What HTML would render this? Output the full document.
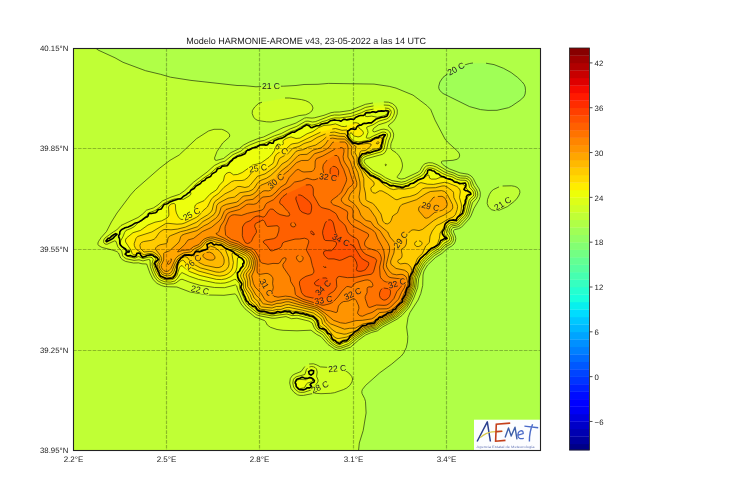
<!DOCTYPE html>
<html><head><meta charset="utf-8"><style>
html,body{margin:0;padding:0;background:#fff;width:730px;height:500px;overflow:hidden}
svg{display:block;will-change:transform}
text{text-rendering:geometricPrecision}
text{font-family:"Liberation Sans",sans-serif;fill:#222}
</style></head><body>
<svg width="730" height="500" viewBox="0 0 730 500">
<defs><mask id="lm" maskUnits="userSpaceOnUse" x="0" y="0" width="730" height="500"><rect width="730" height="500" fill="#fff"/><rect x="-9.9" y="-3.5" width="19.8" height="7" transform="translate(456.0 68.7) rotate(-29)" fill="#000"/><rect x="-9.9" y="-3.5" width="19.8" height="7" transform="translate(271.0 85.8) rotate(0)" fill="#000"/><rect x="-9.9" y="-3.5" width="19.8" height="7" transform="translate(191.5 214.0) rotate(-28)" fill="#000"/><rect x="-9.9" y="-3.5" width="19.8" height="7" transform="translate(258.0 168.2) rotate(-8)" fill="#000"/><rect x="-7.6" y="-3.5" width="15.1" height="7" transform="translate(281.5 149.0) rotate(35)" fill="#000"/><rect x="-9.9" y="-3.5" width="19.8" height="7" transform="translate(275.8 181.0) rotate(-40)" fill="#000"/><rect x="-9.9" y="-3.5" width="19.8" height="7" transform="translate(328.2 177.2) rotate(8)" fill="#000"/><rect x="-9.9" y="-3.5" width="19.8" height="7" transform="translate(341.0 240.0) rotate(27)" fill="#000"/><rect x="-9.9" y="-3.5" width="19.8" height="7" transform="translate(400.7 239.8) rotate(-54)" fill="#000"/><rect x="-9.9" y="-3.5" width="19.8" height="7" transform="translate(397.0 283.3) rotate(-17)" fill="#000"/><rect x="-9.9" y="-3.5" width="19.8" height="7" transform="translate(352.6 293.7) rotate(-25)" fill="#000"/><rect x="-9.9" y="-3.5" width="19.8" height="7" transform="translate(323.0 287.8) rotate(-45)" fill="#000"/><rect x="-9.9" y="-3.5" width="19.8" height="7" transform="translate(323.4 300.0) rotate(-10)" fill="#000"/><rect x="-9.9" y="-3.5" width="19.8" height="7" transform="translate(193.0 262.0) rotate(-40)" fill="#000"/><rect x="-9.9" y="-3.5" width="19.8" height="7" transform="translate(200.0 290.0) rotate(12)" fill="#000"/><rect x="-9.9" y="-3.5" width="19.8" height="7" transform="translate(266.4 287.5) rotate(60)" fill="#000"/><rect x="-9.9" y="-3.5" width="19.8" height="7" transform="translate(430.4 206.5) rotate(13)" fill="#000"/><rect x="-9.9" y="-3.5" width="19.8" height="7" transform="translate(502.7 203.5) rotate(-32)" fill="#000"/><rect x="-9.9" y="-3.5" width="19.8" height="7" transform="translate(337.2 368.5) rotate(-5)" fill="#000"/><rect x="-9.9" y="-3.5" width="19.8" height="7" transform="translate(320.0 387.0) rotate(-25)" fill="#000"/></mask><filter id="sb" x="0" y="0" width="1" height="1" filterUnits="objectBoundingBox"><feGaussianBlur stdDeviation="0.35"/></filter><clipPath id="c"><rect x="73" y="48" width="467" height="402"/></clipPath></defs>
<g clip-path="url(#c)"><g filter="url(#sb)"><rect x="73" y="48" width="467" height="402" fill="#a0ff56"/><path fill="#b0ff46" fill-rule="evenodd" d="M73 48l467 0l0 402l-467 0zM438.8 85.5l0 2.5l1 2.5l2.2 2.3l3 1.9l24.5 11.9l9.5 2.7l6 1l11.5 0l9.3 -1.8l3.7 -1.2l9.6 -6.3l3.8 -3l1.9 -3l0.7 -3.5l-0.2 -4l-1.4 -3.5l-4.9 -5.3l-5 -4.2l-7 -4.5l-9 -4.1l-4.5 -1.5l-7.5 -1.2l-14.5 -0.1l-14.5 4.1l-5.5 3.5l-8.1 6.3l-3 4z"/><path fill="#c0ff36" fill-rule="evenodd" d="M73 48l22.6 0l2.4 2l17 7.8l8 4.5l22.5 8.4l15 3.6l10 2.9l21 3.3l45.5 5l8 0.2l11 1.1l9 -0.5l18.5 -0.1l12.5 -0.7l8 -1l14 -0.2l10.5 -0.9l45 0.7l15 2.1l7.3 1.8l17.2 7.1l13.2 9.9l4.1 4l1.4 2.5l3.5 9l9.8 18.5l2.5 3l10 9.1l1.5 1.9l0.7 2l-0.5 2.5l-2.2 1.8l-4 1l-10.4 0.7l-1.1 0.6l0 1.4l3 3l5.2 3l10.3 3.9l8 1.3l3.2 1.8l2.1 2.5l2.7 5.5l3.2 5l1.1 3.5l-0.1 4l-1 3l-5.2 8.8l-3.1 7.7l-1.8 3l-7.6 8.2l-3 1.5l-4 1l-0.9 0.8l-0.1 1.5l1.8 4l0.5 2.5l-0.5 3l-1.3 2.5l-2.5 2.2l-4.2 2.3l-5.3 4.9l-6.5 4.1l-8 7.6l-3.5 5.9l-1 4l-0.3 10.5l-1.9 8l-2.7 6.5l-8.1 12.5l-2 5l-1.4 9.5l1.2 9.5l-0.3 5.5l-1.2 5.5l-2.6 5.5l-2.4 3l-9.5 8l-12.3 9l-14 12.5l-3.1 4l-0.6 2l0.2 2l2.6 5l0.9 3l0.6 11.5l-2.9 17.5l-3.9 12.5l-0.7 7l-285.6 0zM519 189l0.7 1.5l0.2 2l-1.6 4l-4.3 5.1l-6 4.7l-7.5 3.6l-4 0.8l-5 -1l-1.8 -1.2l-1.5 -2l-1.1 -3.5l0.7 -4.5l3 -6.5l3.2 -2.7l7 -3l7.5 -0.6l6.5 0.8l2.3 1z"/><path fill="#d0ff25" fill-rule="evenodd" d="M313 107.5l-0.2 2l-1.3 2l-2.5 1.8l-2.5 1.2l-7.5 1.1l-8 2.3l-19.5 4.1l-5.5 -0.2l-9 -1.7l-3.2 -2.6l-1.7 -4.5l0.3 -2.5l1.5 -2.5l3.1 -3.4l2.5 -1.6l2.5 -0.8l23.5 -4.2l3.5 0l10.5 1.3l6 1.3l5.1 2.9l1.7 2zM477.7 193l0 2.5l-0.7 2.1l-4.6 5.4l-3.2 11.5l-1.6 3l-7.4 8l-2.7 1.3l-4.5 0.8l-1.5 1.4l-0.6 3l2.1 4l0.5 2.5l-0.2 2l-1 2l-1.8 1.7l-4.6 2.3l-5 5l-7.1 4.5l-7.5 7l-4.3 6.7l-3.5 9.6l-1.1 9.2l-4.1 10.5l-3.1 6.5l-2.1 3l-6.6 7.3l-5.5 4.1l-13 6.8l-5.5 4.1l-6.1 1.7l-5.8 2.5l-6.9 5l-8.2 7.2l-9.5 3.2l-3.5 -0.3l-4.5 -1.9l-5.5 -4.2l-6.5 -7.4l-4.5 -2.3l-5.5 -4.1l-14 0.6l-14.5 -0.5l-6 -0.9l-6.6 -2.4l-2.6 -2l-1.8 -3.5l-1.1 -1l-9.4 -3.4l-10 -8.3l-3.9 -4.8l-4.6 -8.9l-1.5 -1.2l-11 1.4l-16 -0.4l-18 -2.9l-13.1 -5l-11.4 -0.3l-5 -1.5l-4.5 -2.6l-3.2 -3.6l-2.9 -6l-3.2 -9l-4.7 -0.2l-3.5 -0.9l-5 0.1l-8 -1.6l-3 -1.7l-1.8 -1.7l-2.2 -5l-1 -1.1l-4 -1.6l-12 -3.1l-2.5 -1.4l-1.1 -1.8l0.9 -3l2.8 -4l4.9 -5.5l4.9 -9.5l6 -9.5l13.1 -17.5l5 -5.6l24 -21.1l10.5 -8l8.5 -4.8l17.5 -16.4l12 -7.9l5.5 -1.9l7.5 -0.1l2.5 0.7l3 1.6l2.5 2l0.8 1.5l-0.4 2l-6.7 6l-5.7 8.5l-2.5 6.5l0.5 2l1.5 0.4l7 -1.9l7.5 -5.9l8.4 -4.1l4.1 -3.4l5.5 -2.9l9 -3.7l5.5 -1.5l19.5 -9.3l13.1 -4.7l8.4 -4.9l2.5 -0.4l6.6 0.3l10.4 -2.7l7 -2.6l3.5 -0.6l5 -0.1l10.5 -1.5l9 -3.3l5 -2.5l9 -1.7l12 -1.1l4.5 0.5l2.5 1l2.4 1.6l1.7 2l1 2l0.2 4.5l-1.6 4.5l-2.4 3.5l-4.5 3.5l-0.5 1l3.8 4l1.6 4l-0.3 3.5l-2.4 6.1l-0.3 2.9l0.3 2.3l1 1.3l4 2.5l2.7 2.9l2.2 3.5l1.3 4l0.3 3l-0.6 3l-1.6 3.5l-3 4l0 1l0.5 0.5l2.6 1l2.6 0l8.5 -3.5l7.5 -3.9l3.4 -5.6l2.1 -2l3 -1.1l4.5 -0.1l5 1.9l11 6.5l6 1.9l4 2.1l2.5 0.6l5.5 0.4l3 1.1l2.5 2.7l1.8 5l3.2 4.5zM289.7 382l0.8 -4l2 -2.7l2.5 -1.4l6.1 -2.4l0.9 -0.7l1.9 -3.3l1.6 -1.6l3 -1.7l3 -0.6l4 0.8l5.5 2.6l10.5 0.6l13.5 3l3 1.6l2.4 2.3l1.6 2.5l0.6 2.5l-1.3 4l-3.3 3.6l-3.5 2.1l-8.5 3l-7 1.2l-9 0.4l-6 -0.5l-11 2.2l-3.5 -0.2l-2 -0.5l-4 -3l-2.7 -3.8z"/><path fill="#ddff18" fill-rule="evenodd" d="M475.8 193.5l-0.7 3.5l-3.6 3.3l-1 1.7l-2.8 11.5l-1.5 3l-3.7 3.5l-3.5 4.1l-2.5 1.1l-4.5 0.7l-2 1.8l-1.2 4.3l2.7 5.5l0.1 2l-0.9 2l-1.7 1.5l-4 1.8l-4.5 4.8l-7.1 4.4l-7.4 6.8l-2.3 2.7l-3.7 6.5l-3.3 9l-1 9l-3.8 10l-4.6 9l-6.8 7.3l-5.5 4.1l-13 6.8l-5.5 4.1l-6 1.6l-5.5 2.3l-7.6 5.3l-7.9 6.7l-9 3.1l-2.5 -0.2l-2.5 -0.9l-6 -4.2l-7 -8.5l-4.5 -2.4l-2 -1.7l-1.7 -2.4l-1.8 -4.5l-2.5 -2.1l-13 -3.2l-6 0.4l-5 -2l-11 1.6l-3 0l-13 -2.5l-3 -1.2l-9.2 -7.5l-2.9 -3.5l-1.7 -3l-6.2 -15.4l-1.5 -0.2l-5.5 1.9l-5 1l-10 -0.3l-14 -2.2l-10 -3l-8 -3.1l-1.5 0.3l-4 3.1l-2.5 1l-5.5 0.6l-5 -0.5l-5.5 -2.6l-3.3 -3.6l-2.5 -5.5l-1.7 -5l-0.5 -7l-1.5 -0.5l-5.5 1.4l-4 -1.1l-5 0.6l-7.5 -1.6l-2.3 -1.3l-1.5 -1.5l-1 -5l-3.8 -4l-1.9 -5.7l-1.5 -0.4l-6 3l-2 0.5l-2.1 -0.9l-1 -2l0.5 -2l1.6 -2l11.2 -7.5l4.3 -4.5l17 -8l4.7 -3.5l3.8 -3.8l7 -2.3l4.5 -3l4.5 -4l8.5 -3.8l8.5 -2.8l5.4 -3.8l8.6 -8.3l13.5 -10.1l7 -6.3l6.3 -3.3l4.7 -1.3l7.5 -6.2l3.5 -2l5.1 -2l5.4 -4.4l12 -5.2l6 -1.1l10 -4.5l6.9 -2.3l4.1 -2.4l12 -5.1l7.5 -4.6l3 -0.3l4.5 0.9l3.5 -0.5l14.5 -5.7l4 -0.8l5 0.1l11.5 -1.7l9.5 -3.6l4.5 -2.3l8.5 -1.6l12 -1l3.5 0.4l2.5 1.2l1.6 1.5l1.1 2l0.2 2.5l-1.5 4.5l-2.9 3.4l-4 2.1l-7 2l-5 3.5l-1.3 2l0.3 1.5l1.5 0.4l7 -2.6l3 -0.2l3 0.9l2.3 2l0.8 2l0 2l-2.1 5l-2.5 10.1l-2 2.3l-2.5 1.3l-13.5 3.3l-2.6 1l-1 1l-0.3 1.5l0.5 1.5l1.4 1.6l7 5.9l8 4.1l5 3.4l6 2.6l9.5 1.6l4 -0.9l14.5 -7.2l2 -2.1l2.5 -4.4l1.5 -1.4l3 -0.8l3.5 0.3l4 1.4l7.5 4.6l4.5 2l4.5 1.2l4.5 2.4l3 0.7l5 0.2l2.5 0.9l2 2.2l1.5 5l3 3.7zM384.6 165l0.9 -0.9l1.1 0.4l-0.6 1.1l-1 0zM315.1 367.5l1.4 1.5l0.6 2l-0.5 5.5l1.6 4l-0.8 2.5l-4.9 6l-2 1.2l-7.5 2.2l-3.5 -0.2l-2.5 -1.2l-2.6 -2.5l-1.1 -2.5l-0.5 -4.5l1.2 -3l3.5 -2.2l7.4 -1.8l1.5 -5l2.6 -2.3l3 -0.7z"/><path fill="#edff08" fill-rule="evenodd" d="M473.9 193.5l-0.5 2.5l-3 2.5l-1.3 2l-3.1 12.5l-1.2 2.5l-3.3 3l-3.5 4.2l-2 0.9l-5 0.8l-2.5 2.1l-1.8 6l0.5 1.5l2.4 3.5l0.1 1.5l-0.7 1.5l-5 2.7l-4.5 5l-7 4.3l-8.1 7.5l-2.1 2.5l-3.4 6l-3.4 9l-0.6 3l-0.3 6.5l-3.5 9.5l-3.5 7.5l-1.6 2.4l-6.5 7l-5 3.8l-13 6.7l-5.5 4.1l-5.5 1.4l-5.5 2.2l-10.3 6.9l-5.7 4.8l-8.5 3.2l-2 -0.1l-2 -0.6l-6 -4.3l-3 -4.4l-4 -4.6l-4.5 -2.4l-1.8 -1.6l-1.1 -2l-1.4 -4.5l-1.7 -2l-2 -1.2l-13 -3.5l-6 0.3l-5 -1.6l-15 1.9l-12.5 -2.2l-2.5 -1.1l-9 -7.5l-2.4 -3.1l-5.7 -13l-0.6 -5.5l-3.3 -4l-1.5 -0.1l-5 2.3l-4.5 1.3l-4.5 0.3l-5 -0.3l-17 -3.6l-9 -3.1l-7.5 -3.7l-1.5 1.2l-3 4.7l-3 2.7l-5 1l-5.5 -0.5l-5 -2.4l-2.8 -3.3l-2.3 -5l-1.8 -5.5l-0.1 -2l1.2 -4l-0.7 -1.5l-1.5 -0.9l-2 -0.2l-6 1.7l-4.5 -2.2l-3 1.5l-1.5 0.1l-6.5 -1.8l-1.8 -1.7l0.3 -3l-0.5 -1.5l-4.2 -4l-0.9 -2l0.2 -3l4.9 -10.1l1.5 -1.2l4 -1.2l2.8 -1.5l1.9 -1.5l2.5 -3l7 -4l3.3 -5.5l6.5 -2.4l5 -3.5l3.8 -3.6l7.7 -3.6l6 -1.3l6 0.7l6 -3.5l1.5 -1.8l-0.6 -2.5l0.4 -1.5l4.7 -5.6l9.5 -7.3l4 -2.4l7.4 -6.7l5.3 -2.5l4.8 -1.6l8.1 -6.9l8.4 -4l4 -3l13.6 -5.5l4.4 -1.2l11 -5.2l6.5 -2.2l8.5 -4.4l4 -1.2l4 -2l7 -4.4l2 -0.1l3.5 1.3l1.5 -0.1l5 -1.3l4 -2l4 -1l5.6 -2.2l3.4 -0.6l5 0.1l12 -1.8l9.5 -3.5l4.4 -2.2l7.6 -1.4l13.5 -1.1l1.8 0.5l1.5 1l1 2.5l-1.3 4l-2.5 2.5l-3 1.3l-6 1.5l-5.5 3.5l-5.3 1.7l-1.1 1l1.4 4.5l-0.4 2l-1.4 3l0.3 1.1l3 -0.1l10 -4.9l3 -1l3.5 0.5l1.1 0.9l0.5 1.5l-1.7 5l-1.8 8.5l-1.6 2.5l-3.5 1.7l-14 3.9l-1.7 0.9l-1.1 1.5l-0.4 2.5l1.1 3l8.6 8l8.5 4.3l4.5 3.1l6.5 3l11.5 1.6l4 -1.2l14.8 -7.3l2.6 -2.5l3.1 -4.9l2 -0.7l2.5 0.1l4 1.4l7.5 4.3l5 2.1l4 1l4.5 2.4l4 1l4.5 0.1l2 0.7l1.5 2l1 4.5l3.1 3zM387.7 112.5l-0.4 -1l-1 -0.5l-6.8 -0.1l-3.5 1.1l-9 0.9l-1.5 1.1l-0.6 1.5l0.6 0.9l1 0.2l5 -0.5l4.5 1.1l3 0l6.5 -2l1.6 -1.2zM312.5 379.7l0.2 0.8l-0.7 1l-4.5 1.6l-1.4 1.4l-1.1 2.5l-2 1.3l-2.5 0.5l-1.5 -0.3l-2 -1.4l-1 -1.7l-0.4 -2.4l0.2 -1.5l0.7 -1l1.5 -0.8l8.5 0.1l4 -1.6l1 0.4z"/><path fill="#feed00" fill-rule="evenodd" d="M470.8 193.5l-0.2 1l-2.5 2l-0.8 1.5l-3.1 14l-1.2 2.5l-6 6.7l-1.5 0.6l-5.5 1.1l-2.3 1.6l-1.1 1.5l-2.4 7l0.6 2l1.8 2.5l-0.1 1.5l-4 2.5l-4.5 5.6l-7 4.1l-10 10.1l-3.4 6.2l-1.6 5.4l-2 4.6l-1 10l-3.5 9.5l-4.4 8.5l-6.5 7l-5.1 3.8l-12.5 6.3l-5.5 4.2l-5.5 1.4l-5.8 2.3l-11.2 7.2l-5 3.9l-4 1.1l-4 1.9l-3 -0.6l-5 -3.5l-3 -4.5l-4.3 -5l-5.8 -3.5l-1.2 -2l-1.3 -4.5l-2.4 -2.6l-2 -1.3l-9 -2.7l-6 -1.3l-4.5 0.5l-4 -1.4l-2.5 -0.2l-14 2.2l-12 -2l-3 -1.6l-2.5 -2.9l-5.3 -4.2l-2.1 -3l-5.5 -12l-0.3 -6l-3.4 -6l-0.3 -2l0.4 -1.5l5.2 -6.5l1.3 -3l-0.5 -3.2l-2.5 -2.3l-2.5 -0.7l-1.5 0.7l-0.6 9.5l-1 3.5l-1.2 2l-3.8 3.5l-4.9 2.3l-4.5 0.8l-5 -0.2l-16.5 -3.9l-10 -3.8l-3.5 -2.2l-4 -3.4l-1.5 -0.5l-1.5 1.8l-2.5 7.9l-2 2.7l-3 1.7l-6 0.3l-4 -1.3l-2.5 -1.6l-3.5 -5.8l-2.2 -6.3l0.2 -2l1.7 -3.5l-0.1 -1l-1.1 -1.5l-2 -1.3l-2.5 -0.6l-7 1.5l-3.5 -2.8l-1.5 -0.5l-3 1.5l-1.5 0l-1.3 -1.3l-1 -3l-5.9 -9.5l0.3 -1.5l1.4 -2.1l6.3 -4.9l7.2 -2.1l7.5 -5.4l7 -2.8l6.5 -1.3l5.6 -2.9l1.3 -1.5l0.5 -1.5l-0.6 -6.5l0.3 -2l1.1 -1.5l2.3 -1.3l2 -0.3l1.4 1.1l0.3 5.5l0.7 3l2 4l1.8 2l1.3 0.5l2 -0.3l8.5 -4.1l1.5 -1.1l1 -1.5l0.2 -5.5l0.7 -2l2 -1.5l6.6 -2.8l6 -6.5l6.5 -4.4l3 -4.7l3.9 -4.1l1.3 -5.5l1.8 -2.2l3.5 -1l2.6 2.2l2.4 0.5l6.4 -2l10.1 -7.3l2.5 -1.1l6.5 -1.3l8 -5.6l3 -2.9l2.5 -3.3l0.9 -2l0.4 -3l0.7 -1.4l1.5 -0.7l2.5 1.2l2.5 -0.6l0.9 -1.5l-0.3 -2.5l2.1 -2l5.8 -2.1l5 1.6l4 -0.4l7 -4.3l6 -2.3l5.7 -4l6.8 -2.4l4.5 -0.1l5.5 -1.1l6 2.4l2.5 0.4l2.9 -0.7l6.6 -3.1l2.5 -0.2l2.5 0.6l0.9 1.2l-0.6 2l0.1 1.5l4.2 3.5l0.3 1.5l-0.5 1.5l-2.9 2l-3.5 0.3l-3 -1.3l-2.5 -2.9l-1 0.8l-0.3 1.6l0.6 2.5l1.9 2.5l1.8 1.1l3 0.7l2.5 0.1l10 -1.8l5 -2.6l6 -2.4l2 -0.4l1.5 0.5l0.4 1.3l-2.1 11l-0.8 1.5l-2 1.4l-6 1.4l-10.5 3.8l-2.1 2.9l-0.4 3.5l0.6 2l1.4 2.2l8 7.8l8.5 4.2l4.5 3.4l6.5 3.2l11.5 1.7l2.5 -0.2l9 -3.5l5.5 -3.3l5.5 -1.8l4.5 -2.9l0.5 0.7l0.5 2.5l1.5 1l5 0.1l4.5 -1.8l2 -0.1l8.5 2.2l4 1.9l6.6 2.2l3.4 2.2l2 3.6l3.1 2.7z"/><path fill="#ffda00" fill-rule="evenodd" d="M352.5 127.5l1 -0.4l0.8 0.4l0 0.5l-1.3 0.2zM460.2 191l-0.7 6.5l1.8 6.5l0.2 2.5l-1.3 7l-4.5 6l-6.2 1.6l-4.1 2.9l-2.2 4.5l-3.1 4.5l-0.7 5.5l-1.9 5.6l-2.1 1.9l-5.9 3l-9.9 11l-3.3 6.5l-1.5 5.5l-2.1 5l-0.9 10l-1.5 3.5l-1.7 5.5l-4.1 8.2l-6.5 7.1l-4.1 3.2l-9.9 5.4l-4 1.7l-4.8 3.9l-11.2 3.6l-16 10l-5 1.1l-3.5 1.9l-2.5 -0.4l-4 -2.7l-2.5 -3.9l-4.6 -5.6l-5.9 -3.8l-1.1 -4.7l-0.9 -1.5l-3.5 -3.1l-2 -1.1l-10.5 -3.1l-5 -0.9l-4.5 0l-3.5 -1.2l-3 0.1l-4.5 1.2l-4 0.1l-5.5 1.1l-11.5 -1.8l-2.5 -1.2l-2.7 -3.6l-5.3 -4.7l-2.4 -5.8l-4.1 -7.5l-0.2 -6l-2.5 -5l-0.2 -2l2 -4l3.4 -4.5l0.9 -2.5l0.2 -2l-0.5 -2l-1.1 -1.8l-3.5 -2.5l-7 -2.8l-2.6 0.1l-0.4 1.5l1.4 8l-0.9 5.5l-1.3 2.5l-1.7 2l-2.5 1.8l-3 1.2l-4 0.6l-4 -0.4l-18 -4.8l-8 -3.9l-3 -2.5l-3.4 -4l-1.1 -0.3l-2 1l-2 2.8l-2.9 8.5l-1.6 3.1l-3 1.9l-4.5 0.3l-3 -0.7l-2.5 -1.3l-4.1 -6.3l-1.4 -5l0.3 -1.5l2.1 -3.5l-0.3 -1.5l-1.1 -1.5l-2.5 -2l-2.5 -0.9l-3.5 0l-3.5 1.1l-1.5 -0.3l-3 -2.6l-3.5 -2.3l-1.5 -2l-0.8 -2.5l0.1 -2l1.5 -4l1.7 -2.5l14.5 -4.6l12.5 -7.8l3.5 -0.8l9 0.9l5.5 -0.4l15 -7.1l2.5 -2.2l3 -3.8l4.5 -3.8l3.4 -6.9l1.9 -2.5l6.2 -4.4l6 -6.6l8 -5.6l9.5 -0.5l2.9 -0.9l3 -2.5l3.8 -5l1.8 -1.2l7.5 -0.3l3.5 -1.4l7.9 -5.6l0.9 -2l0.9 -4.5l1.8 -2.7l3 -2.2l7 -3.6l4.5 -4.1l2 -0.7l5.5 -0.9l23.5 -11.2l12 -3l2.5 0l5.5 1.7l5 -0.3l0.5 0.5l0.5 5.5l1.5 3l3 2.9l4 1.2l3 0.1l10.5 -1.8l6 -2.7l4.5 -1.2l1 0.3l0.6 1.7l-0.1 2.5l-2 5.7l-1.5 0.9l-5.5 0.8l-3.9 2.1l-6.6 2.6l-1.4 1.4l-1 2l-0.6 4.5l0.7 2.5l1.2 2l8.1 8.8l9 4.5l4.5 4.3l6.5 4.2l3.5 1.3l5.5 -0.9l6 0.4l9 -1.7l5.2 -3.9l1.8 -0.8l2 0.1l5.5 1.4l5.5 0.2l11 -2.1l3.5 0.7l9 3.6l2.1 1.9z"/><path fill="#ffcb00" fill-rule="evenodd" d="M457.5 206l-0.1 2.5l-1.9 5.9l-1.1 1.6l-1.9 1.3l-5.5 2.4l-6 3.8l-4.4 2l-2.1 2.2l-2.8 4.3l-1.8 4.5l-0.6 6l-3.6 3.5l-3.3 7.5l-4.2 4l-1 1.5l-2.6 7l-1.1 5.5l-2 5l-0.7 10l-1.6 3.5l-1.9 6l-4.2 8l-6 6.5l-4.1 3.1l-9.5 5.1l-4 1.7l-5 4.1l-11 3.3l-5.5 3.7l-11 5.5l-8.5 1.6l-2.5 -0.5l-2 -1.3l-7 -9.2l-4.4 -3.6l-0.9 -4l-1.2 -2l-7.2 -5l-24.3 -5.6l-3 0.2l-5 1.8l-4 0l-4.5 1.1l-11.5 -1.2l-1.8 -0.8l-2.8 -4.5l-4.4 -4.1l-2 -5.4l-3.8 -5.5l-0.8 -2l0 -6l-2 -4.5l-0.1 -1.5l1.2 -2.8l3.1 -3.7l1.2 -2.5l0.7 -3l-0.7 -3.5l-1.3 -2.3l-1.9 -1.7l-10.1 -4.9l-2.5 -0.7l-6.9 -0.4l-0.5 0.5l3 8l0.5 6l-0.6 2.5l-1.2 2l-1.8 1.7l-2.5 1.4l-3.5 0.7l-3.5 -0.3l-15.5 -4.1l-8 -4.3l-2.5 -2.4l-2.5 -3.7l-2.5 -0.9l-4 1.7l-2.5 2.6l-2.1 3.6l-2.4 6.8l-1.5 2.7l-2.2 1.5l-3.3 0.4l-3 -0.7l-2 -1l-3.9 -5.7l-0.9 -4l2.4 -4l0.2 -1.5l-0.4 -1.5l-1.4 -2l-3 -2.5l-2.5 -1.3l-3 -0.2l-4.5 0.6l-1.5 -0.4l-2.7 -2.7l-1 -2.5l0.5 -2.5l1.7 -1.8l9.5 -1.9l3 -1.4l4.9 -6.4l3.6 -2.6l2 -0.5l6 0.4l6.5 -0.7l8 -2l10.5 -4.5l5.5 -4.2l6.5 -3.8l3 -2.6l1.4 -2.5l1.6 -6.5l2.5 -3.1l4 -2.4l5 -4.1l7.4 -3.4l4.1 -3.2l2.5 -0.4l6 1.1l3.2 -1l8.8 -10.2l7.5 -2.4l10 -6.9l1.9 -2.5l2.1 -5.1l1 -1.4l7.5 -4l5.5 -5.8l6.5 -1.9l5 -3l6 -1.8l5.5 -3.5l9 -3.9l7 -1.9l3 -0.1l5.5 1.4l4.5 0.2l1 0.9l1.9 3.9l1.6 2l2.5 2.3l2 0.8l4.5 1l8.5 -1.2l4 0.6l0.2 1l-0.6 1l-3.4 3.5l-2.2 1.1l-3.5 0.3l-1 0.6l-0.7 1.5l-1.4 8.5l0.7 3l1.4 2.6l7.5 9.9l4.8 4l1.4 2l-0.2 2.3l-2.5 1.9l-0.7 1.3l0.5 2.5l1.7 1.8l2.5 0.4l4 -2.4l2.5 0.1l5.6 3.1l7.4 5.2l2.5 0.6l5 -2.1l7 -1.1l5.5 -1.8l2.5 -1.3l4.5 -4.3l2 -1l4.5 -0.5l7 0l6.5 -1.7l2.5 -0.1l2.5 1l6.4 5.1l0.5 5.5zM414.6 243.5l0.9 2.2l2.5 0.9l2.9 -1.1l0.9 -1l0.4 -1.5l-1.2 -1.6l-3 -0.6l-2.1 0.7zM378.5 141.8l0.5 0.7l-0.5 1.2l-1 0.4l-1.2 -0.6l0.2 -1z"/><path fill="#ffb900" fill-rule="evenodd" d="M452.8 205.5l-0.2 3l-1.6 2.2l-7 4.4l-5.5 2.5l-5 3.1l-11 8.7l-3.5 1.2l-5 -0.8l-2 0.2l-1.5 0.9l-2.3 2.6l-2.7 1.1l-0.9 0.9l0.1 1l1.9 3l-0.3 4.5l-1.3 2.8l-3.8 2.7l0.9 5l-0.2 2.5l-0.9 1.5l-3 1.9l-0.3 1.1l0.9 1.5l1.9 0.9l5 -0.5l2.5 0.8l2.7 2.8l1 3.5l-1.7 7l-0.1 8l-3.6 10l-3.8 7.5l-6.1 6.5l-3.9 3l-9.5 4.9l-3.5 1.4l-5.5 4.5l-10.5 2.9l-7 4.4l-11 3.5l-3.5 -0.2l-5.5 -1.4l-4 -2.5l-7.3 -7.5l-1.7 -4.3l-1.5 -2.1l-5.5 -4.3l-2.5 -1.3l-25.5 -6l-3 0.3l-4.5 1.6l-4.5 0.1l-4.5 1.5l-10 -0.9l-1.3 -0.6l-2.7 -5l-4 -3.7l-2 -4.8l-4.3 -6.5l-0.1 -6l-1.6 -5.5l0.7 -2l3.4 -4l1 -2.5l0.5 -4l-1 -4l-1.6 -2.5l-2 -1.7l-10.5 -5.2l-9 -2.4l-6 -3.5l-6 -1.2l-4 -1.5l-3.5 0.5l-2.6 1.5l-3.9 4.9l-5.4 3.1l-1.1 1.5l0 0.7l5 -0.7l6 -2.1l4.5 -3.8l4.5 1.4l5.5 4.5l3 4.9l0.7 3.1l-0.1 2.5l-0.7 2l-1.4 1.7l-2.5 1.2l-3 0.3l-11 -2.2l-5 -2.1l-4.6 -3.4l-1.7 -2.5l-0.2 -3.4l-3 0.5l-6 0l-3 1.2l-3.8 2.7l-3.2 5l-3.5 8.5l-1.5 1.4l-2.5 0.6l-4 -1l-1.6 -1.5l-2 -3l-0.9 -3.5l2.5 -4.5l0 -2.5l-1.1 -2.5l-3.9 -4.5l-1.1 -2l0.9 -2l2.2 -1.6l8.1 -1.9l0.8 -1.5l0.6 -4l1.9 -2l10.6 -4.3l16.4 -4.7l6.1 -5.5l9.3 -5.5l3.1 -3.5l1.4 -7l2 -2.5l9.2 -4.8l6 -0.8l6 -4.7l8.5 -1.3l4 -1.7l1.8 -1.7l2.7 -4.3l2 -2.2l2 -1.2l5.5 -2.1l4.2 -2.7l6.8 -6.3l4.5 -5.2l5 -2.9l2.5 -2.1l6.5 -7.6l2 -0.8l5.5 -1l4 -2.2l8.3 -2.4l6.7 -4.6l4 -3.5l4.5 -1.7l13.5 1.3l6.5 6.9l5.1 3.1l-1.1 6l2.1 4.5l0 5.5l0.6 2.5l3.7 6.5l2.4 7l0.1 8l1.5 6.5l0.5 6.5l1.3 1.5l5.3 2.3l2.5 2.3l6 8.4l1.8 7l2.2 2.5l2.5 0.4l2.4 -1.4l1.2 -2l1.6 -4.5l4.8 -3.3l2.2 -5.7l2.2 -2.5l14.6 -4.8l9.6 -6.2l4.2 -2l11.2 -0.9l3 0.8l2.8 3.1z"/><path fill="#ffa600" fill-rule="evenodd" d="M409 284.5l-3.6 10l-3.4 7.2l-6.5 7l-3.7 2.8l-12.3 5.3l-6.5 5.3l-10 1.9l-7.5 4.1l-6 0.2l-5 0.9l-14 -5.4l-3.2 -2.8l-2.4 -4.5l-1.6 -2l-5.7 -4.5l-3.1 -1.5l-7.5 -1.6l-18 -5.1l-3 0l-5 1.4l-4 0.2l-5 1.8l-9.1 -1.7l-3.3 -5l-3.6 -3.3l-5.6 -9.7l-0.3 -4.5l-1.3 -6l3.4 -5.5l1.3 -6l-0.5 -4l-1.7 -3.5l-1.8 -2l-3 -1.9l-9.5 -4.6l-8.5 -2.4l-6 -3.6l-10.5 -2.8l-3 0.3l-3 1.1l-2.4 1.9l-3.1 3.9l-6 2.9l-3.5 3.1l-7.5 1.1l-6 3.4l-2.4 3.1l-4.2 9l-2.5 2.5l-2.4 0.4l-2 -0.7l-2 -2.2l-0.9 -3l2.6 -5.5l-0.1 -5.5l0.4 -1.4l5.5 -2.3l8.5 -7.7l1.5 -2.1l0.9 -3.5l1.3 -2l2.8 -1.4l12.5 -3.5l7 -4.8l4.5 -2.3l7 -5.1l2 -2l2 -3.4l1.5 -5.3l1.5 -1.7l4 -1.7l9.5 -1.9l2.5 -1.4l4.5 -4.6l2.5 -0.8l5 -0.3l3 -1.4l3.3 -2.9l2.7 -4.3l1.5 -1.5l6 -2.4l8 -4.5l6 -7.2l7 -5.3l9 -9.2l2 -1.5l2 -0.6l6 -0.2l6 -4.2l8 -2.2l4 -3.2l3.5 -5.1l2 -1.2l2 -0.3l5.5 0.9l5.5 -0.1l1.5 0.4l6 6.2l0.8 1.5l-0.4 7l2.6 5.2l0.6 6.3l3.3 7l2 9.5l0.3 7l-1.2 8l1.2 5l2.5 3l5.7 3l1.7 1.5l5.5 8l2.5 6.5l9.6 8l2.6 5.5l4.2 4.5l0.6 2l-1.1 8.5l-3 7.3l-0.2 3.7l1.3 2l3.9 2.9l8 1.6l3.7 2.5l0.9 2zM444 197.2l2.2 3.3l1.1 4l-1.4 3l-3.3 2.5l-7.6 2.4l-5.5 4.6l-3.5 1.2l-1.5 -0.7l-1.7 -2.5l-3.9 -4l-0.4 -2.5l1.5 -2.5l1.9 -1l4.1 -0.6l2 -0.9l2.3 -2l2 -3l1.2 -1l7 -1.3l2 0.2zM202.9 255l0.7 -1l1.6 -1l2.8 -0.8l2 -0.1l1.9 0.9l1.8 1.5l1.1 2l0.2 1.5l-0.5 1.1l-1.5 0.9l-4.5 0l-4.1 -2l-1.3 -1.5z"/><path fill="#ff9400" fill-rule="evenodd" d="M407.8 284.5l-7 16.5l-6.3 6.6l-4 2.9l-4.5 1.5l-6.5 0.6l-5.5 5l-2.5 1.3l-9 1.4l-6.1 0.2l-9.9 2.7l-3.5 0.2l-5.5 -1.4l-3.6 -1.5l-9.2 -7.5l-7.9 -5.5l-14.3 -4l-10.5 -3.7l-3 -0.6l-3 0l-9.5 1.6l-5 1.5l-3 -0.5l-2.7 -1.3l-1.3 -1.4l-3.3 -5.6l-6.1 -6.5l-1.7 -3.5l-1.7 -7.5l2.6 -6l0.9 -5l-0.1 -4.5l-1.4 -4l-1.7 -2.7l-2 -1.7l-7.8 -3.6l-4.2 -2.4l-8 -2.4l-7 -4l-9 -2.5l-3.5 -0.2l-3.5 0.8l-3 1.4l-2 1.7l-3 3.6l-5.5 2.2l-4 3.2l-7 0.5l-4.5 1.6l-0.4 -0.5l6.7 -6.5l3.7 -5l5.5 -1.6l9 -6.9l8.8 -4l7.8 -6.5l2.1 -2.5l3 -7l1.8 -2l12 -3.7l8 -5.5l7 -1l10 -8.2l6 -0.3l2 -0.9l8.7 -8.4l4 -7l5.3 -4.2l7.5 -7.7l5 -2.1l5.5 0.2l1.5 -0.5l6 -6.5l8 -2.4l4.4 -2.3l2.6 -2.3l2.4 -3.7l1.1 -0.8l11 -0.3l2.5 1.5l1.4 2.6l0 11l2.6 5l1.4 5.5l2.7 7l2.2 8.5l-0.1 2.5l-0.8 2l-4.4 4.8l-1.7 2.7l-1.1 3l0.2 2l4.6 3.2l2.2 2.3l3.2 4.5l1.9 5l3.3 4l1.9 1.4l4 0.8l1 0.6l2.7 4.2l5.3 3.9l2.2 2.6l7 11l1.3 3.5l0 5l-3.1 11.5l0 2l0.6 2.1l3.1 4.4l2.6 2l3.8 0.8l5.5 -0.5l3 1.3l1.6 2.4zM171.5 259l-0.1 1.5l-1.4 2.8l-1.5 1.2l-1 -0.4l0.1 -1.6l1.2 -2l1.7 -1.6z"/><path fill="#ff8500" fill-rule="evenodd" d="M340.5 147.4l2 0.4l1.4 1.7l0.1 2l-0.9 5l0.4 3.3l1 2.3l4.1 6.4l4.6 14l-0.7 2.3l-4 3.3l-3.4 5.9l-3.2 4l-0.6 1.5l0.2 1.5l1 1.6l2 1.7l6 2.6l1.8 1.6l0.9 2.5l-0.4 6l1.2 2.1l6 3l5 3.8l6.5 3.5l2.5 1.8l1.5 1.8l2.3 6l4.2 7.4l1.9 4.6l0.7 6l-1.4 10l0.8 2.5l3.2 6l1.8 1.5l2 0.7l10.6 1.3l2.6 2l1.3 3l-1 3.5l-3 5l-3 6.7l-8 8l-2 1.1l-2 0.5l-9 0.2l-5.5 3.5l-5 1.6l-4.5 2.1l-2.5 -0.4l-2.1 -1.8l-0.3 -1.5l1.3 -4l-0.2 -2.5l-2.5 -5.5l-1.2 -1.3l-1 -0.3l-1.5 0.2l-4 1.9l-5 0.6l-2.5 1.4l-2.5 3l-1.3 6l-1.2 0.6l-5.5 -1.7l-6 -1.1l-8 -4.3l-13.5 -4l-5 -2.3l-7.5 -2.5l-5 -0.6l-7.5 1.1l-4 -0.9l-1.3 -1.3l-0.6 -2l1.2 -5.5l-0.7 -4l0.4 -4.5l-0.4 -1.5l-1.9 -2.5l-2.7 -1.4l-2 -0.2l-5.5 0.9l-2 -0.4l-1 -0.8l-0.5 -2.1l0.3 -8l-0.3 -3.5l-1.7 -4l-2.3 -3.5l-2.5 -1.8l-7 -2.8l-5 -3.1l-8.5 -2.7l-5 -3.1l-5.5 -2.5l-3.4 -2l-0.1 -0.5l1.5 -0.7l1.4 -1.3l1.7 -5.5l3.3 -5l2.5 -6l1.7 -2l2.4 -1.1l9 -2.4l7.1 -5l1.9 -0.4l5 0.2l2.5 -0.6l1.7 -1.2l3 -4l2.3 -1.5l6.5 -0.6l2.5 -0.9l4 -3.4l4.1 -4.6l5.9 -3.8l3.2 -6.2l7.3 -7.6l2 -0.5l3.5 2.2l2 0.4l7 -0.4l1.5 -0.4l1.5 -1.5l1 -2.2l0.2 -6.5l1.3 -2.4l6.5 -2.7l12 -6.8z"/><path fill="#ff7300" fill-rule="evenodd" d="M228.9 217.5l1.6 -1.7l2 -0.8l3 -0.3l6 0.7l6 -2.1l14.6 -3.3l1.7 -1.5l1.8 -4l1.3 -1.5l6.6 -3.3l9.2 -9.2l7.3 -4l3.5 -3.7l1.5 -0.9l6.5 -1.2l5.5 -2.5l5.5 1.5l2.5 0l8 -3.1l0.8 -1.1l0.1 -1.5l-1.2 -7l1.3 -3.5l3.1 -3.5l5.4 -3.5l2.5 -1.2l2 0.2l1.5 1.6l2.1 6.4l3.1 6l2.7 8l0.3 2.5l-5.2 12l-3.5 3.6l-6 4.4l-0.9 1.5l0.3 1.5l2.1 1.8l5.5 1.9l7.9 4.3l0.9 2l-0.5 4l0.2 2l3 4.6l3.5 3l13 6.4l1.3 1l0.4 2l-3.5 5l-0.6 2l0.1 2l1 1.5l2.2 1.5l9.6 3.2l2.5 3l1.1 2.8l0.3 2.5l-1.8 7.5l0.5 8.5l0.5 2l1.1 1.5l2.3 2.1l3 1.1l9 -0.8l3 0.5l2.2 2.1l-0.1 2.5l-4.2 5l-2.1 5.5l-1.6 2.5l-4.2 4.3l-3.5 1.5l-9 -0.3l-6.5 2.4l-1 -0.1l-1.1 -0.8l-2.7 -8l0 -2l1.9 -4l0 -4l0.4 -1l1.5 -0.7l3 0.2l0.9 -1.5l-0.4 -2l-1.4 -2l-1.6 -1.1l-2 -0.5l-2.5 0.2l-8.5 2.4l-2.4 1.5l-2.6 3.4l-3.5 -0.9l-1.5 0.2l-4.5 4.5l-4.2 5.8l-3.7 4l-2.1 1.7l-3 1.3l-5 1.2l-2 0l-18.5 -5.7l-6.6 -3.5l-1.5 -1.5l-0.9 -6.8l-3.8 -6.2l-0.7 -4.5l-6.9 -10l-0.3 -2.5l2.8 -4l0.5 -1.5l-0.3 -1l-1.3 -0.3l-1.9 0.8l-3.1 4.5l-1.5 0.6l-5 -0.2l-5 0.9l-6.5 -1.4l-1 -1.1l-1.5 -4.3l-2.8 -5l-2.7 -3.4l-2 -1l-7 -2.1l-6 -4.1l-7 -2.4l-5.6 -4l-0.5 -1.5l-0.3 -7zM297.5 255.8l-1.1 1.7l1.1 3l2 1.3l2.5 -0.8l1.3 -2.5l-0.8 -2l-2.5 -1.1z"/><path fill="#ff6000" fill-rule="evenodd" d="M333 166.3l1.5 0.1l2 1.1l2 3l0.2 2.5l-0.6 3l-0.9 2l-1.2 0.9l-1.5 0l-1.5 -1l-1.9 -2.4l-1.1 -2.7l-0.2 -1.8l0.6 -2l1.1 -1.7zM307.5 184.6l3 0.4l2.2 2l0.6 2l0 6l6.2 11l2.5 1.7l7.4 1.8l5.9 3.5l1.2 1.5l2.5 5.1l4.5 4l2 2.4l1.9 5.5l1.1 1.8l2.5 2.2l5.5 3.1l1.4 1.4l2.6 8l2.5 4l3 2.4l8.5 3.6l1.5 1.2l0.7 1.3l-3.1 11l-1.1 1.8l-1.5 1l-7 1.1l-8.5 1.9l-8 0.4l-8 -1.3l-1.8 0.6l-1.4 2.5l0.5 7l-1.8 3.4l-2 1.9l-3.7 2.2l-2.8 3.6l-7 2.6l-2 -0.2l-5 -2.1l-6.5 -1.4l-2.5 -1.3l-2 -2.8l-2.1 -8.4l0.2 -2.5l1.9 -2.5l4.5 -2.7l6 -1.8l1.2 -1l0.7 -1.5l-0.1 -2l-1.5 -4.5l-1.7 -7.5l-4 -7.5l0.1 -2l2.1 -6.5l-0.3 -1.5l-1 -1.3l-3 -1l-5 0.8l-4.5 0.1l-10.5 2.8l-1.8 1.1l-1.3 3.5l-1.4 1.5l-7.5 2.8l-1.5 0.1l-1 -0.7l-3 -4.6l-3.2 -2.6l-0.6 -1.5l2.3 -1.5l8 -1.3l2.6 -1.2l1 -1.5l1.7 -5l0.2 -3.5l-1 -1.4l-1 -0.4l-9.5 0.8l-1.2 -1l-1.8 -4.1l-1.5 -1.5l-7 3.4l-1 0.9l-0.3 2.3l1.7 4l0 2l-3 4.5l-1.8 4l-1.6 1.7l-2.5 0.9l-2.3 -1.1l-2.1 -4l-0.8 -3l0.2 -8.5l2.1 -3.5l1.9 -1.3l4.1 -1.7l3.2 -3l2.2 -1.2l3 -0.4l4 1.2l1 -0.2l1.5 -1.3l3.2 -5.1l1.8 -1.4l2.5 0.1l4 3.7l3 1.7l6.5 1.5l2.6 -0.1l0.6 -1.5l-1.1 -2.5l-3.6 -3.5l-2 -2.8l-3.1 -2.2l-0.3 -1.5l0.9 -2.5l2.5 -3l4 -3l17 -7.8zM323.6 266.5l0.9 1l1.5 -0.2l-1.5 -1.2l-0.6 -0.1zM291.5 222.8l-1 1.7l0.6 1.5l1.9 1l2.1 -0.5l0.7 -1.5l-0.6 -1.5l-2.2 -1.2zM383.5 288l5.5 0.8l1 0.8l0.5 1.4l-0.1 3l-0.9 2.6l-2.2 2.4l-2.3 1.1l-1.7 -0.1l-1.8 -1l-1.3 -1.5l-0.7 -2l0.1 -2.5l0.9 -2.5l1.5 -1.9z"/><path fill="#ff5100" fill-rule="evenodd" d="M297.1 195.5l2.4 -0.6l2.5 0.8l5.7 4.3l2.8 2.9l1 2.1l0.2 2.5l-0.7 4.5l-1 1.8l-2 0.4l-3.5 -1l-2.6 -1.2l-1.9 -1.8l-4.2 -10.7l0.2 -2.4zM327.3 220.5l2.7 -0.8l1.5 0.5l1 1l1 2.3l2 9l1.5 2.5l5.6 5l11.4 6.2l6.5 10.9l2.5 2.2l5.5 3.1l0.3 1.1l-0.4 2l-2.8 4l-2.1 1.1l-2.5 0.7l-2.5 -0.1l-1.7 -0.7l-0.5 -1l0.9 -4l-0.8 -3.5l-1.9 -3.5l-3 -2.3l-2 0.1l-7.5 3.5l-2.5 0.6l-5.5 -1.5l-5.5 0l-2 -1.2l-2.1 -2.2l-1 -2.5l0.6 -1.7l2 -0.7l5.5 0.2l3.9 -4.3l1.2 -2.5l-0.3 -1.5l-1.3 -1.1l-2.5 -0.6l-6.9 -0.3l-0.9 -0.5l-0.7 -1.1l-1.3 -4.9l0 -3l2.1 -7zM310.5 231.4l1 -0.3l1.5 1l1.3 1.9l-0.3 1l-2.5 -1.1l-1 -1.4zM327.8 279.5l0 2l-0.8 1.8l-1 1.2l-2 1l-6 0.5l-2 -0.6l-1.5 -1.4l-0.1 -1l1.2 -1.5l4.9 -3l5 -0.7l1.5 0.5z"/><path mask="url(#lm)" fill="none" stroke="#000" stroke-width="0.7" stroke-opacity="0.8" d="M473 63l-3.5 0.5l-12.5 3.7l-5.5 3.5l-8.5 6.7l-3.1 4.6l-1.2 4.5l0.2 2l0.9 2l3.2 3l26.5 13.1l11 3l7.5 0.8l9 -0.1l11.5 -2.6l3 -1.5l8.5 -5.8l4 -3.7l1.1 -2.7l0.4 -3.5l-0.3 -3.5l-1 -2.5l-1.9 -2.5l-4.6 -4.5l-6.6 -5l-7.6 -4.2l-9.5 -3.7l-8 -1.4M95.6 48l2.4 2l17 7.8l8 4.5l22.5 8.4l15 3.6l10 2.9l20.5 3.2l46 5.1l8 0.2l11 1.1l9 -0.5l18.5 -0.1l12.5 -0.7l8 -1l14 -0.2l10.5 -0.9l45.5 0.7l15.5 2.3l6.5 1.7l17 7l13.8 10.4l3.9 4l4.3 10.5l10 19l2.5 3l10 9.1l1.5 1.9l0.7 2l-0.5 2.5l-2.2 1.8l-4 1l-10.4 0.7l-1.1 0.6l0 1.4l3 3l5.2 3l10.3 3.9l8 1.3l3.2 1.8l2.1 2.5l2.7 5.5l3.2 5l1.1 3.5l-0.1 4l-1 3l-5.2 8.8l-3.1 7.7l-1.8 3l-7.6 8.2l-3 1.5l-4 1l-0.9 0.8l-0.1 1.5l1.8 4l0.5 2.5l-0.5 3l-1.3 2.5l-2.5 2.2l-4.2 2.3l-5.3 4.9l-6.5 4.1l-8 7.6l-3.5 5.9l-1 4l-0.3 10.5l-1.9 8l-2.7 6.5l-8.1 12.5l-2 5l-1.4 9.5l1.2 9.5l-0.3 5.5l-1.2 5.5l-2.6 5.5l-2.4 3l-9.5 8l-12.3 9l-14 12.5l-3.1 4l-0.6 2l0.2 2l2.6 5l0.9 3l0.6 11.5l-2.9 17.5l-3.9 12.5l-0.7 7M502.6 186l8.9 -0.2l3 0.5l2.5 1l1.5 1.2l1.2 2l0.2 2l-0.8 2.5l-1.8 3l-2.8 3.2l-7 5.4l-9 3.9l-3.5 0.1l-3.5 -0.9l-3 -2.7l-1.3 -3.5l0.3 -4l1.9 -5l1.8 -3l2.3 -2l5.5 -2.6M285 98l4.5 0l12 1.6l4 1l3.5 1.7l2.9 2.7l1.1 3l-1 2.9l-3 2.4l-3.5 1.5l-6.5 0.8l-8 2.3l-20 4.1l-4.5 -0.2l-8.5 -1.3l-2.5 -1.2l-2 -2.3l-1.3 -3.5l0.2 -3l2.3 -3.5l3.8 -3.5l3.5 -1.3M383.9 102l4.6 0.2l4 1.4l3.3 2.9l1.5 3.5l-0.1 4l-1.8 4.5l-2.1 3l-4.5 3.5l-0.5 1l3.8 4l1.6 4l-0.3 3.5l-2.4 6.1l-0.3 2.9l0.3 2.3l1 1.3l4 2.5l2.7 2.9l2.2 3.5l1.3 4l0.3 3l-0.6 3l-1.6 3.5l-3 4l0 1l0.5 0.5l3.2 1.1l3.5 -0.6l14 -6.5l1.5 -1.6l2.8 -4.9l2.2 -1.8l3.5 -1l4 0.2l4.5 1.8l10.6 6.3l6.4 2.1l4 2.1l2.5 0.6l6 0.5l2.8 1.2l2.2 2.5l2 5.3l3.2 4.7l1 3l0 2.5l-1.2 3l-4 4.2l-3.3 11.8l-1.6 3l-7.4 8l-2.7 1.3l-4.5 0.8l-1.5 1.4l-0.6 3l2.1 4l0.5 2.5l-0.2 2l-1 2l-1.8 1.7l-4.6 2.3l-5.4 5.3l-6.1 3.7l-6.9 6.3l-2.3 2.7l-3.6 6l-2.9 8l-1 9l-3.9 10.5l-3.6 7.5l-1.6 2.5l-6.7 7.5l-4.9 3.7l-14 7.5l-5.5 4.1l-6.1 1.7l-5.8 2.5l-6.9 5l-8.2 7.2l-9.5 3.2l-3 -0.1l-3 -1l-7 -4.8l-7 -7.9l-4.5 -2.3l-5.5 -4.1l-14 0.6l-14 -0.5l-6 -0.8l-6.5 -2.2l-3.2 -2.3l-1.8 -3.5l-1.1 -1l-9.4 -3.4l-10 -8.3l-3.9 -4.8l-4.6 -8.9l-1.5 -1.2l-11 1.4l-15.5 -0.3l-18.5 -3l-13.1 -5l-11.4 -0.3l-4 -1.1l-4.5 -2.2l-3.9 -3.9l-3.2 -6.5l-3.2 -9l-4.7 -0.2l-3.5 -0.9l-5 0.1l-8 -1.6l-3 -1.7l-1.8 -1.7l-2.2 -5l-1.5 -1.4l-4 -1.4l-10.8 -2.7l-3 -1.5l-1.2 -1.5l-0.1 -1.5l0.6 -1.5l2.7 -4l5.3 -6l4.9 -9.5l5.6 -9l13.5 -18l5 -5.6l24.4 -21.4l10.1 -7.7l9.2 -5.3l17.3 -16.3l12 -7.7l5.5 -1.7l7.5 0l2.5 0.8l3 1.7l2 1.7l0.8 1.5l-0.4 2l-6.7 6l-5.7 8.5l-2.5 6.5l0.5 2l1.5 0.4l7 -1.9l7.5 -5.9l8.4 -4.1l4.1 -3.4l5.5 -2.9l9 -3.7l5.5 -1.5l19.5 -9.3l13.1 -4.7l8.4 -4.9l2 -0.4l5.5 0.4l2.5 -0.3l9.5 -2.5l7 -2.6l3.5 -0.6l5 -0.1l10.7 -1.5l15.3 -6.2l7.5 -1.3M309.2 364l4.3 -0.2l3 1l4 2.1l11 0.7l14 3.2l3.4 2.2l2.9 3.5l0.8 2.5l-0.6 3l-2.3 3.5l-3 2.5l-3.2 1.6l-9 3.1l-4 0.6l-9.5 0.4l-6.5 -0.5l-11 2.2l-3.5 0l-2.5 -0.6l-3.5 -2.5l-3 -3.8l-1.3 -5.5l0.6 -4.5l2.2 -3.2l2.5 -1.4l6.1 -2.4l3.7 -5M383.8 105l5.2 0.3l3.7 2.2l1.1 1.5l0.6 2l0 2l-0.8 2.5l-1.7 3l-2 2l-3.9 2l-7.5 2.3l-5 3.7l-0.8 2l0.3 1l1.5 0.4l6.5 -2.4l3 -0.4l3.5 0.9l2.3 2l0.8 2l0 2l-2.1 5l-1.9 8.5l-1.6 3l-2.5 1.8l-17.1 4.7l-1 1l-0.3 1.5l1.4 2.7l7.5 6.3l8 4.1l4.5 3.1l6.5 2.9l9.5 1.6l4 -0.9l14.5 -7.2l2 -2.1l2.6 -4.5l1.9 -1.5l3 -0.6l3.5 0.4l3.5 1.3l7.5 4.6l4.5 2l4.5 1.2l4.5 2.4l3 0.7l5 0.2l2.5 0.9l2.1 2.4l1.5 5l3.5 4.5l0.7 4l-1.1 2.5l-2.9 2.5l-1.1 1.5l-3 12l-1.5 3l-3.7 3.5l-3.5 4.1l-2.5 1.1l-4.5 0.7l-2 1.8l-1.2 4.3l2.7 5.5l0.1 2l-0.9 2l-1.7 1.5l-4 1.8l-4.5 4.8l-7.1 4.4l-7.4 6.8l-2.3 2.7l-3.7 6.5l-3.3 9l-1 9l-3.8 10l-4.6 9l-6.8 7.3l-5 3.8l-13.5 7.1l-5.5 4.1l-6 1.6l-5.5 2.3l-7.6 5.3l-8.4 6.9l-8.5 2.9l-3 -0.3l-3 -1.3l-5.5 -4.2l-6.5 -8l-6 -3.6l-2.2 -2.9l-2.1 -5l-3.2 -1.9l-12 -2.9l-5.5 0.5l-5.5 -2.1l-11 1.6l-3 0l-12.5 -2.4l-3 -1l-9.5 -7.6l-2.7 -3.2l-2.1 -3.5l-4.4 -10.5l-1.1 -4l-1.2 -1.1l-11 2.8l-10 -0.2l-14.5 -2.2l-10 -3l-8 -3.1l-2 0.6l-4 3.1l-2.5 0.9l-7 0.4l-4.5 -1.1l-4.5 -2.4l-3 -3.7l-2.3 -5l-1.9 -5.5l-0.3 -6.5l-1.5 -0.5l-5.5 1.4l-4 -1.1l-5 0.6l-7.5 -1.6l-2.3 -1.3l-1.5 -1.5l-1 -5l-3.8 -4l-1.9 -5.7l-1.5 -0.4l-7.5 3.4l-2 -0.3l-1.3 -1.5l0 -2.5l1.3 -2l8.5 -6.2l3.2 -1.8l4.3 -4.5l17 -8l4.7 -3.5l3.8 -3.8l7 -2.3l4.5 -3l4.5 -4l8.5 -3.8l8.5 -2.8l5.4 -3.8l8.6 -8.3l13.5 -10.1l7.4 -6.6l6.1 -3.1l4.5 -1.2l8 -6.6l8 -3.5l4 -3.6l5 -2.6l9 -3.6l5.5 -1l10 -4.5l6.9 -2.3l8.6 -4.5l6.5 -2.5l9 -5.2l2.5 -0.2l4.5 0.9l3 -0.4l15.5 -6l3.5 -0.6l5 0.1l11 -1.6l10 -3.7l5 -2.4l8 -1.5M384.8 164.5l1.2 -0.4l0.6 0.9l-0.6 0.6l-1 0M309.4 367l2.1 -0.5l2 0.3l1.6 0.7l1.4 1.5l0.7 3l-0.6 4.5l1.5 3.5l-0.2 2l-4.9 6.5l-1.9 1.5l-7.1 2.3l-3.5 0.1l-2 -0.5l-3 -2.2l-1.9 -2.7l-0.8 -4l0.6 -3.5l1.1 -1.5l2 -1.3l8.4 -2.2l1.5 -5l1.1 -1.3M384.9 108l3.6 0.4l2.2 1.6l0.6 2.5l-1.3 3.5l-1.5 1.8l-2 1.2l-7.5 2.1l-6 3.7l-6.1 2.2l-0.3 1l1.1 2.5l0.3 2l-1.9 5l0.9 0.7l2.4 -0.2l4.1 -2.2l8.5 -3.6l2 -0.2l2 0.6l1.4 1.4l0.2 1.5l-1.6 4.2l-2 9.1l-1.5 2.2l-2 1.1l-12.5 3.4l-4.5 1.9l-1.5 2.1l-0.2 2l0.7 2.3l1.8 2.2l7.7 6.9l8 3.9l4.5 3.1l7 3.1l10.5 1.5l4.5 -1.2l15 -7.4l2.4 -2.4l2.3 -4l1.3 -1.2l2 -0.4l2.5 0.3l3.5 1.2l7.1 4.1l4.9 2.1l4.5 1.2l4.5 2.4l4 1l4.5 0.1l2 0.7l1.5 2l1 4.5l3.4 3.5l1 3l-0.5 2l-3 2.5l-1.3 2l-3.1 12.5l-1.2 2.5l-3.3 3l-3.5 4.2l-2 0.9l-5 0.8l-2.5 2.1l-1.8 6l0.5 1.5l2.4 3.5l0.1 1.5l-0.7 1.5l-5 2.7l-4.5 5l-7 4.3l-8.1 7.5l-2.1 2.5l-3.4 6l-3.4 9l-1.1 10l-1.8 4l-1.7 5.5l-4.2 8.5l-6.8 7.5l-4.4 3.5l-14 7.4l-5 3.9l-6 1.6l-6 2.5l-9.8 6.6l-6.2 5.1l-7.5 2.8l-3 -0.1l-2.5 -1.1l-4.4 -3.2l-7.6 -9.5l-5.8 -3.5l-1.6 -2.5l-1.4 -4.5l-1.7 -2l-2 -1.2l-13 -3.5l-6 0.3l-5 -1.6l-15 1.9l-12.5 -2.2l-2.5 -1.1l-9 -7.5l-2.4 -3.1l-5.7 -13l-0.6 -5.5l-3.3 -4l-1.5 -0.1l-5 2.3l-4.5 1.3l-4.5 0.3l-5 -0.3l-17 -3.6l-9 -3.1l-7.5 -3.7l-1.5 1.2l-3 4.7l-2.7 2.5l-4.3 1.1l-5.5 -0.2l-5.5 -2.2l-3 -3.2l-2.6 -5.5l-1.7 -5l-0.2 -2.5l1.2 -4l-1.2 -1.9l-3 -0.7l-6 1.7l-4.5 -2.2l-3 1.5l-1.5 0.1l-6 -1.6l-2 -1.4l-0.4 -1l0.1 -3.5l-4.7 -5l-0.7 -2.5l0.5 -2.5l2 -3.5l1.8 -4.5l1.4 -2.1l5 -1.9l3.5 -2l3.7 -4l7.6 -4.5l1.3 -3l1.4 -2l6.5 -2.4l5 -3.5l4 -3.7l7.5 -3.5l3 -0.9l4 -0.4l5 0.7l6 -3.5l1.5 -1.8l-0.6 -2.5l0.4 -1.5l4.6 -5.5l9.6 -7.4l4 -2.4l7.4 -6.7l5.3 -2.5l4.8 -1.6l6.8 -5.9l3 -2l6.7 -3l5 -3.5l12.6 -5l4.4 -1.2l11 -5.2l7 -2.4l8 -4.2l5 -1.6l10 -6l2 -0.1l3.5 1.3l1.5 -0.1l5 -1.3l4 -2l4 -1l5.6 -2.2l3.4 -0.6l5 0.1l11.5 -1.7l10 -3.6l4.5 -2.2l7.5 -1.4M379 111l-3 1l-9 0.9l-1.5 1.1l-0.5 2l2 0.7l4.5 -0.6l6 1.2l7 -1.7l2.6 -1.6l0.6 -1.5l-0.4 -1l-1.3 -0.6M309.5 378.5l1 -0.3l1 0.4l1 1.1l0 1.3l-1 0.8l-4 1.3l-1.4 1.4l-1.1 2.5l-1.3 1l-4.2 0.7l-1.5 -0.7l-1.5 -1.6l-0.9 -3.9l0.4 -1.4l1 -1l2.5 -0.7l7 0.4M352.9 123l3.1 -0.3l2.9 0.8l0.5 1l-0.6 2l0.1 1.5l3.4 2.5l1.1 2l-0.2 1.5l-1.3 1.5l-1.9 1l-2 0.4l-3.8 -0.9l-1.3 -1l-1.4 -2.2l-1 0l-0.8 1.7l0.3 2.5l1.7 2.5l2.3 1.6l5 0.8l9.5 -1.6l12.5 -5.4l2 -0.2l1.2 0.8l-0.8 7l-1.1 5l-1.3 2l-2 1l-5.5 1.3l-10 3.5l-1.5 1.3l-1.3 2.4l-0.2 3l1.1 3l9.5 9.5l7.6 3.5l4.8 3.6l7 3.4l11.5 1.5l5 -1.1l6 -2.6l5.4 -3.3l5.6 -1.8l4 -2.8l1 0.4l0.5 2.8l2 1l4.5 0l4.5 -1.8l2.5 0l8 2.1l4 1.9l7.6 2.7l2.7 2l1.7 3.3l3.1 2.7l0.7 1.5l-0.2 1l-2.5 2l-0.8 1.5l-3.1 14l-1.2 2.5l-6 6.7l-1.5 0.6l-5.5 1.1l-2.3 1.6l-1.1 1.5l-2.4 7l0.6 2l1.8 2.5l-0.1 1.5l-4 2.5l-4.5 5.6l-7 4.1l-10 10.1l-3.4 6.2l-1.6 5.4l-2 4.6l-1 10l-1.6 3.5l-1.6 5.5l-4.3 8.5l-6.5 7.1l-5 3.9l-13 6.6l-5.5 4.2l-5.5 1.4l-5.8 2.3l-11.2 7.2l-5 3.9l-4 1.1l-4 1.9l-2 -0.2l-2.5 -1.3l-4 -3.1l-2.5 -4l-4.5 -5.2l-5.6 -3.3l-1.2 -2l-1.3 -4.5l-2.8 -3l-2.1 -1.1l-13.5 -3.6l-5.5 0.3l-4.5 -1.5l-3 0l-13 2.1l-12 -2l-2.5 -1.2l-3 -3.3l-5.3 -4.2l-2.1 -3l-5.5 -12l-0.3 -6l-3.4 -6l-0.3 -2l0.4 -1.5l5.2 -6.5l1.3 -3l-0.5 -3.2l-2.5 -2.3l-2.5 -0.7l-1.5 0.7l-0.6 9.5l-1 3.5l-1.2 2l-3.8 3.5l-4.9 2.3l-4.5 0.8l-5 -0.2l-16.5 -3.9l-10 -3.8l-3.5 -2.2l-4 -3.4l-1.5 -0.5l-1.5 1.8l-2.5 7.9l-2 2.7l-3 1.7l-6 0.3l-4 -1.3l-2.5 -1.6l-3.5 -5.8l-2.2 -6.3l0.2 -2l1.7 -3.5l-0.1 -1l-1.1 -1.5l-2 -1.3l-2.5 -0.6l-7 1.5l-3.5 -2.8l-1.5 -0.5l-3 1.5l-1.5 0l-1.3 -1.3l-1.3 -3.5l-5.3 -8l-0.2 -2l1.1 -2l6.5 -5.3l7.5 -2.3l7.5 -5.4l7 -2.8l6.5 -1.3l5.6 -2.9l1.3 -1.5l0.5 -1.5l-0.4 -8l1 -1.8l2 -1.3l2.5 -0.5l1.4 1.1l0.3 5.5l0.7 3l2 4l2.1 2.2l1.5 0.3l1.5 -0.3l8.7 -4.2l2.3 -2.5l0.2 -5.5l0.7 -2l2 -1.5l6.6 -2.8l6 -6.5l6.5 -4.4l3 -4.7l3.9 -4.1l1.1 -5.1l1.5 -2.2l2 -1.1l2 -0.3l3.5 2.5l4 -0.3l4.8 -2l10.2 -7.3l8.6 -2.2l7.9 -5.7l3 -3.1l2.5 -3.7l0.8 -4l0.7 -1.4l1.5 -0.7l2.5 1.2l2.5 -0.6l0.9 -1.5l-0.4 -2l0.3 -1l2.8 -2l4.9 -1.6l5 1.6l4 -0.4l7 -4.3l6 -2.3l5.5 -3.9l5.5 -2.2l6 -0.4l5.5 -1.1l6 2.4l3 0.3l2.5 -0.6M352.5 127.5l1 -0.4l0.8 0.4l0 0.5l-1.3 0.2M332.3 129l3.2 -0.5l6.5 1.8l5 -0.3l0.5 0.5l0.5 5.5l1.5 3l3.3 3l4.2 1.2l2.5 0l10.5 -1.8l6 -2.7l4.5 -1.2l1 0.3l0.6 1.7l-0.1 2.5l-2 5.7l-1.5 0.9l-5.5 0.8l-3.9 2.1l-6.6 2.6l-1.4 1.4l-1.1 2.4l-0.5 4.4l1.9 4.2l8.1 8.8l8.6 4.2l5.4 5l6.5 4.1l3.5 1l5 -0.9l6 0.4l7.5 -1.3l2.5 -0.9l4.5 -3.6l2 -0.7l6.5 1.6l6 0.2l11 -2.1l3.5 0.7l8.9 3.5l1.8 1.5l1.3 2l0.3 2l-0.8 5.5l1.8 6.5l0.2 2.5l-0.5 4.5l-1.1 3l-4.2 5.5l-6.2 1.6l-4.1 2.9l-2.2 4.5l-3.1 4.5l-0.7 5.5l-1.9 5.6l-2.1 1.9l-5.9 3l-5 6l-4.6 4.5l-3.6 7l-1.5 5.5l-2 4.5l-0.6 3.5l-0.2 6.5l-1.7 4l-1.7 5.5l-4.3 8.5l-6.3 6.8l-5 3.8l-13 6.5l-5 4l-5.3 1.4l-5.7 2.1l-16 10l-5 1.1l-3.5 1.9l-1.5 0l-5 -3.1l-2.5 -4l-5 -5.9l-5.3 -3.1l-0.7 -1.3l-1.1 -4.7l-3.9 -3.6l-2 -1.1l-10.5 -3.1l-5 -0.9l-4.5 0l-3.5 -1.2l-3 0.1l-4.5 1.2l-4 0.1l-5.5 1.1l-11.5 -1.8l-2.5 -1.2l-2.7 -3.6l-5.3 -4.7l-2.4 -5.8l-4.1 -7.5l-0.2 -6l-2.5 -5l-0.2 -2l2 -4l3.4 -4.5l0.9 -2.5l0.2 -2l-0.5 -2l-1.1 -1.8l-4 -2.7l-6.5 -2.6l-2.6 0.1l-0.4 1.5l1.4 8l-0.9 5.5l-1.3 2.5l-1.7 2l-2.5 1.8l-3 1.2l-4 0.6l-4 -0.4l-18 -4.8l-8 -3.9l-3 -2.5l-3.4 -4l-1.1 -0.3l-2 1l-2 2.8l-2.9 8.5l-1.6 3.1l-2.5 1.7l-4.5 0.6l-3.5 -0.8l-2.5 -1.3l-3.8 -5.8l-1.7 -5.5l0.3 -1.5l2.1 -3.5l-0.3 -1.5l-1.1 -1.5l-2.5 -2l-2.5 -0.9l-3 -0.1l-4 1.2l-1.3 -0.2l-3.2 -2.7l-3 -1.9l-1.7 -1.9l-1 -2.5l-0.1 -2l1.8 -5.1l1.6 -1.9l14.4 -4.6l13.5 -8.2l2.5 -0.4l9 0.9l5 -0.3l3 -1l11.5 -5.6l2.5 -1.8l4 -4.8l4.4 -3.7l3.5 -7l2.1 -2.7l5.5 -3.8l5.3 -6l7.7 -5.8l3 -1.1l7.5 -0.1l2.5 -0.6l3.4 -2.4l4.1 -5.3l1.5 -1.2l2 -0.5l6 0l3.5 -1.4l7.9 -5.6l0.9 -2l0.9 -4.5l1.8 -2.7l3 -2.2l7 -3.6l4.5 -4.1l2 -0.7l5 -0.7l22.5 -10.8M330.2 132.5l4.3 -0.5l6 1.5l4.5 0.2l1 0.9l1.9 3.9l1.6 2l2.5 2.3l2 0.8l4.5 1l8.5 -1.2l4 0.6l0.2 1l-0.6 1l-3.4 3.5l-2.2 1.1l-3.5 0.3l-1 0.6l-0.7 1.5l-1.4 8.5l0.7 3l1.4 2.6l7.5 9.9l4.8 4l1.4 2l-0.2 2.3l-2.5 1.9l-0.7 1.3l0.5 2.5l1.7 1.8l2.5 0.4l4 -2.4l2.5 0.1l5.6 3.1l7.4 5.2l2 0.6l5.5 -2.1l7 -1.1l5.5 -1.8l3 -1.7l4.5 -4.2l2.5 -0.9l10.5 -0.3l6.5 -1.7l2.5 -0.1l2.5 1l5.5 4.1l1 1.3l0.4 5.2l3.1 6.5l0.6 2.5l-0.4 3l-1.7 4.9l-2.4 2.6l-5.1 2.2l-7 4.3l-4.5 2l-4.2 5.5l-2.2 5l-0.8 6.5l-3.6 3.5l-3.3 7.5l-4.2 4l-1 1.5l-2.6 7l-1.1 5.5l-2 5l-0.6 3.5l0.1 5.5l-3.7 10.5l-3.8 7.5l-6.4 7l-4.6 3.5l-13 6.4l-5 4.1l-11 3.3l-5.5 3.7l-11 5.5l-8.1 1.5l-1.9 -0.1l-2.8 -1.4l-7.2 -9.4l-4.4 -3.6l-0.9 -4l-1.2 -2l-7 -4.9l-11 -2.9l-13.5 -2.8l-3 0.2l-5 1.8l-4 0l-4.5 1.1l-11.5 -1.2l-1.8 -0.8l-2.8 -4.5l-4.4 -4.1l-2 -5.4l-3.8 -5.5l-0.8 -2l0 -6l-2 -4.5l-0.1 -1.5l1.2 -2.8l3.1 -3.7l1.2 -2.5l0.7 -3l-0.7 -3.5l-1.3 -2.3l-1.9 -1.7l-10.1 -4.9l-2.5 -0.7l-6.9 -0.4l-0.5 0.5l3 8l0.5 6l-0.6 2.5l-1.2 2l-1.8 1.7l-2.5 1.4l-3.5 0.7l-3.5 -0.3l-15.5 -4.1l-8 -4.3l-2.5 -2.4l-2.5 -3.7l-2.5 -0.9l-4 1.7l-2.5 2.6l-2.1 3.6l-2.4 6.8l-1.5 2.7l-2 1.4l-3 0.5l-3 -0.5l-2.5 -1.2l-3.9 -5.7l-0.9 -4l2.4 -4l0.2 -1.5l-0.4 -1.5l-1.4 -2l-3 -2.5l-2.5 -1.3l-3 -0.2l-5.5 0.5l-3.5 -3.5l-0.6 -3l0.6 -1.9l1 -1.1l2 -0.9l7.5 -1.2l3 -1.1l1.6 -1.3l3.8 -5.5l3.6 -2.6l2 -0.5l6 0.4l6.5 -0.7l8 -2l11 -4.8l4.5 -3.5l6.4 -3.8l3.1 -2.5l1.7 -2.5l1.4 -6l1.3 -2.5l10.1 -7.7l7.9 -3.8l4.6 -3.4l2.5 -0.2l5 1.1l3.5 -0.9l1.5 -1.2l7.5 -9.1l7.5 -2.4l10 -6.9l1.9 -2.5l2.1 -5.1l1 -1.4l7.5 -4l5.5 -5.8l6 -1.7l5 -3l7 -2.2l6 -3.8l8.5 -3.6M377.2 142l1.3 -0.2l0.5 0.6l-1 1.6l-1.7 -0.5l0.2 -1M417 241l-1.7 1l-0.7 1.5l0.3 1.5l0.9 1l1.2 0.5l1.7 0l1.8 -0.8l1.3 -1.2l0.4 -1.5l-1.1 -1.5l-2.1 -0.7M329.5 135.5l3.5 -0.4l5.5 1.1l6 0.3l6.5 6.9l5.1 3.1l-1.1 6l2.1 4.5l0 5.5l0.6 2.5l3.7 6.5l2.4 7l0.1 8l1.5 6.5l0.5 6.5l1.3 1.5l5.3 2.3l2.5 2.3l6 8.4l1.8 7l2.2 2.5l2.5 0.4l2.4 -1.4l1.2 -2l1.6 -4.5l4.8 -3.3l2.2 -5.7l2.2 -2.5l14.6 -4.8l9.6 -6.2l4.2 -2l11.2 -0.9l3 0.8l2.8 3.1l5.2 10l0.3 3.5l-1.8 2.7l-7 4.4l-5.5 2.5l-5 3.1l-11 8.7l-3.5 1.2l-5 -0.8l-2 0.2l-1.5 0.9l-2.3 2.6l-2.7 1.1l-0.9 0.9l0.1 1l1.9 3l-0.3 4.5l-1.3 2.8l-3.8 2.7l0.9 5l-0.2 2.5l-0.9 1.5l-3 1.9l-0.3 1.1l0.9 1.5l1.9 0.9l4.5 -0.6l2.5 0.6l2 1.5l1.5 2.1l0.7 3l-1.7 7l0 7.5l-3.5 10l-3.4 7l-7.2 8l-4.4 3.2l-12 5.6l-5.9 4.7l-10.1 2.7l-8 4.8l-9 2.9l-2.5 0.3l-7.5 -1.7l-4 -2.5l-7.3 -7.5l-1.7 -4.3l-1.5 -2.1l-5.5 -4.3l-2.5 -1.3l-25.5 -6l-3 0.3l-4.5 1.6l-4.5 0.1l-4.5 1.5l-10.5 -1.1l-1.5 -1.3l-2 -4.1l-3.9 -3.5l-2.1 -5l-4.3 -6.5l-0.1 -6l-1.6 -5.5l0.7 -2l3.6 -4.5l1.2 -4.5l-0.4 -4l-1.7 -3.5l-3.4 -2.8l-9.7 -4.7l-8.1 -2l-6.2 -3.6l-6.5 -1.4l-4 -1.5l-2.5 0.2l-3 1.3l-3.5 4.5l-2.5 1.9l-3.9 2.1l-1.2 2l5.1 -0.5l6 -2.1l4.5 -3.8l4.5 1.4l5.5 4.5l3 5l0.7 3l-0.2 3l-0.9 2l-1.6 1.5l-2.5 1l-3 0.1l-11.5 -2.4l-4.6 -2.2l-4.4 -3.5l-1.4 -2.5l-0.1 -2.9l-3 0.5l-5.5 -0.1l-3.5 1.3l-4.2 3.2l-3 5l-2.7 7l-1.6 2.1l-2 0.8l-2.5 0l-2.4 -0.9l-1.7 -1.5l-2 -3l-0.9 -3l0.3 -1.5l2.2 -3.5l0.1 -2l-1.2 -3l-4.8 -6l0 -1.5l1.4 -1.6l3 -1.6l6.6 -1.3l0.8 -1.5l0.6 -4l1 -1.4l1.5 -0.9l10 -4l6 -1.4l11 -3.6l5.5 -5.2l6 -3.3l5 -3.7l1.8 -3l1 -6l1.7 -2.3l9.5 -5l6.5 -1.1l5.5 -4.4l8.5 -1.3l3.5 -1.4l2.3 -2l2.7 -4.3l2 -2.2l2 -1.2l5.5 -2.1l4.2 -2.7l6.8 -6.3l4.5 -5.2l5 -2.9l2.5 -2.1l6.3 -7.5l2.2 -0.9l5.5 -1l4 -2.2l8.3 -2.4l6.7 -4.6l3.8 -3.4M330.1 138.5l2.4 -0.4l5 0.8l7 0.2l2 1.5l4.8 5.4l0.5 1.5l-0.5 4l0.1 2.5l2.6 5.2l0.6 6.3l3.3 7l2 9.5l0.3 7l-1.2 8l1 4.5l2.5 3.4l5.9 3.1l1.7 1.5l5.5 8l2.5 6.5l9.6 8l2.3 5l4.8 5.5l0.2 2l-1.1 8.5l-3.2 8l0 2l0.5 1.5l4.8 3.9l8.5 1.8l2.5 1.6l1.3 1.7l0.8 10.5l-0.4 2l-3.5 9l-3.1 6.5l-7.1 7.7l-4.5 3.1l-11.5 4.8l-6 5l-10 1.9l-7.5 4.1l-6 0.2l-5 0.9l-14 -5.4l-3.2 -2.8l-2.4 -4.5l-1.6 -2l-5.7 -4.5l-3.1 -1.5l-7.5 -1.6l-18 -5.1l-3 0l-5 1.4l-4 0.2l-5 1.8l-8.5 -1.4l-1.5 -1.2l-2.4 -4.1l-3.6 -3.3l-5.6 -9.7l-0.3 -4.5l-1.3 -6l3.4 -5.5l1.3 -6l-0.5 -4l-2 -4l-3.5 -2.9l-10.4 -5.1l-8.1 -2.2l-6.5 -3.8l-10 -2.7l-3.5 0.2l-3.5 1.4l-1.9 1.6l-3.1 3.9l-6 2.9l-3.5 3.1l-7.5 1.1l-5.5 3l-2.5 2.7l-4.5 9.7l-2 2.3l-1.5 0.6l-2 0l-1.5 -0.6l-1.5 -1.5l-1 -1.7l-0.4 -2l2.6 -5.5l0 -6.5l0.8 -0.8l5 -1.9l8.5 -7.7l1.5 -2.1l1.1 -4l1.4 -1.8l2.5 -1.1l12.5 -3.5l7 -4.8l4 -1.9l7.5 -5.5l1.9 -1.9l2.1 -3.5l1.5 -5.3l1.5 -1.7l4 -1.7l10 -2.1l2.5 -1.7l3 -3.4l1.9 -1.1l6.1 -0.6l3 -1.2l3.5 -2.8l3 -4.7l1.5 -1.5l6 -2.4l8 -4.5l6 -7.2l7.5 -5.8l9.5 -9.6l2.5 -1.1l6.5 -0.3l6 -4.2l8 -2.2l4 -3.2l3.2 -4.7M437.8 196.5l4.2 -0.2l2.5 1.4l1.5 2.3l1.1 3l0.1 2l-0.6 1.5l-1.6 1.9l-2.5 1.7l-8 2.5l-5.8 4.9l-2.2 0.7l-1.5 -0.2l-6.1 -7l-0.4 -2l0.6 -2l2.4 -1.9l6 -1.3l2.8 -2.3l2.7 -3.7l1.8 -0.8M206.6 252.5l2.9 -0.4l3.1 1.4l2.2 3l0.2 1.5l-0.5 1.1l-1.5 0.9l-3 0.2l-3 -0.7l-2.6 -1.5l-1.3 -1.5l-0.2 -1.5l1.4 -1.5M339.6 142l4.9 0l1.6 1l1.4 2l0.6 3l-0.2 9l2.6 4.9l6.3 20.6l0 2.5l-0.6 2l-5.9 7l-1.6 4l0.2 2l4.6 3.2l2.2 2.3l3.2 4.5l1.9 5l3.3 4l2 1.5l4.5 1l3.4 4.8l6 4.6l8.2 12.6l1.3 3.3l0.1 4.2l-3.3 13.5l0.4 2.5l1.8 3l2.1 2.5l2.1 1.5l3.8 0.8l4.5 -0.5l2 0.3l2.4 1.4l1.2 2l1.1 5l0 2l-6.4 15l-1.3 1.9l-5 5.2l-3.8 2.9l-5.2 2l-6.5 0.6l-5.5 5l-2.5 1.3l-9 1.4l-6.5 0.3l-10.5 2.8l-5 -0.6l-7 -2.5l-8.8 -7.3l-7.7 -5.4l-14.5 -4.1l-10.5 -3.7l-3 -0.6l-3 0l-9.5 1.6l-5 1.5l-3 -0.5l-2.7 -1.3l-1.3 -1.4l-3.3 -5.6l-6.1 -6.5l-1.7 -3.5l-1.7 -7.5l2.6 -6l0.9 -5l-0.1 -4.5l-1.4 -4l-1.7 -2.7l-2 -1.7l-7.8 -3.6l-4.2 -2.4l-8 -2.4l-7 -4l-9 -2.5l-3.5 -0.2l-3.5 0.8l-3 1.4l-2 1.7l-3 3.6l-5.5 2.2l-4 3.2l-7 0.5l-4.8 1.6l0.2 -1l6.9 -6.5l3.2 -4.5l5.5 -1.6l9 -6.9l8.8 -4l7.8 -6.5l2.1 -2.5l3 -7l1.8 -2l12 -3.7l8 -5.5l7 -1l10 -8.2l2 -0.4l3.5 0.2l2 -0.7l9.2 -8.7l4 -7l5.3 -4.2l7.5 -7.7l5 -2.1l6.5 -0.1l1.5 -1l5 -5.7l8 -2.4l4.4 -2.3l2.8 -2.5l2.8 -4l1.5 -0.5M170.4 259l1.1 0l-0.5 2.5l-1.5 2.4l-1.5 0.6l-0.6 -0.5l0.2 -1.5l1.2 -2M340.1 147.5l2.4 0.3l1.4 1.7l0.1 2l-0.9 5l0.4 3.3l1 2.3l4.1 6.4l4.6 14l-0.7 2.3l-4 3.3l-3.4 5.9l-3.2 4l-0.6 1.5l0.2 1.6l3 3.2l6 2.6l1.8 1.6l0.9 2.5l-0.4 6l1.2 2.1l6 3l5 3.8l6.5 3.5l2.5 1.8l1.5 1.8l2.3 6l4.2 7.4l1.9 4.6l0.7 6l-1.4 10l0.8 2.5l3.2 6l1.8 1.5l2 0.7l10.6 1.3l2.6 2l1.3 3l-1 3.5l-3 5l-3 6.7l-8 8l-2 1.1l-2 0.5l-9 0.2l-5.5 3.5l-5 1.6l-4.5 2.1l-2.5 -0.4l-2.1 -1.8l-0.3 -1.5l1.3 -4l-0.2 -2.5l-2.5 -5.5l-1.2 -1.3l-1 -0.3l-1.5 0.2l-4 1.9l-5 0.6l-2.5 1.4l-2.5 3l-1.3 6l-1.2 0.6l-5.5 -1.7l-6 -1.1l-8 -4.3l-13.5 -4l-5 -2.3l-7.5 -2.5l-5 -0.6l-7.5 1.1l-4 -0.9l-1.3 -1.3l-0.6 -2l1.2 -5.5l-0.7 -4l0.4 -4.5l-0.4 -1.5l-1.9 -2.5l-2.7 -1.4l-2 -0.2l-5.5 0.9l-2 -0.4l-1 -0.8l-0.5 -2.1l0.3 -8l-0.3 -3.5l-1.7 -4l-2.3 -3.5l-2.5 -1.8l-7 -2.8l-5 -3.1l-8.5 -2.7l-5 -3.1l-5.5 -2.5l-3.4 -2l-0.1 -0.5l1.5 -0.7l1.4 -1.3l1.7 -5.5l3.3 -5l2.5 -6l1.7 -2l2.4 -1.1l9 -2.4l7.1 -5l1.9 -0.4l5 0.2l2.5 -0.6l1.7 -1.2l3 -4l2.3 -1.5l6.5 -0.6l2.5 -0.9l4 -3.4l4.1 -4.6l5.9 -3.8l3.2 -6.2l7.3 -7.6l2 -0.5l3.5 2.2l2 0.4l7 -0.4l1.5 -0.4l1.5 -1.5l1 -2.2l0.2 -6.5l1.3 -2.4l6.5 -2.7l12 -6.8M334.5 155.5l2.5 0l1.5 1.6l2.1 6.4l3.1 6l2.7 8l0.3 2l-0.6 2.5l-4.6 10l-3.5 3.6l-6 4.4l-0.9 1.5l0.3 1.5l2.1 1.8l5.5 1.9l7.9 4.3l0.9 2l-0.5 4l0.2 2l3 4.6l3.5 3l13 6.4l1.3 1l0.4 2l-3.5 5l-0.6 2l0.1 2l1 1.5l2.2 1.5l9.6 3.2l2.5 3l1.1 2.8l0.3 2.5l-1.8 7.5l0.5 8.5l0.5 2l1.1 1.5l2.2 2l2.3 1l2.8 0.3l8.5 -0.8l2.5 1l1.2 1.5l0.2 1.5l-0.4 1.2l-4.1 4.8l-3 7l-4.4 4.9l-2.6 1.6l-2.9 0.4l-7.5 -0.4l-6.5 2.4l-1 -0.1l-1.1 -0.8l-2.7 -8l0 -2l1.9 -4l0 -4l0.4 -1l1.5 -0.7l3 0.2l0.9 -1.5l-0.4 -2l-1.4 -2l-1.6 -1.1l-2 -0.5l-2.5 0.2l-8.5 2.4l-2.4 1.5l-2.6 3.4l-3.5 -0.9l-1.5 0.2l-4.5 4.5l-4.2 5.8l-3.7 4l-2.1 1.7l-3 1.3l-5 1.2l-2 0l-19 -5.9l-6.1 -3.3l-1.5 -1.5l-0.9 -6.8l-3.8 -6.2l-0.7 -4.5l-6.9 -10l-0.3 -2.5l2.8 -4l0.5 -1.5l-0.3 -1l-1.3 -0.3l-1.9 0.8l-3.1 4.5l-1.5 0.6l-5 -0.2l-5 0.9l-6.3 -1.3l-1.2 -1.2l-1.8 -4.8l-2.8 -5l-2.4 -2.9l-2 -1l-7 -2.1l-6 -4.1l-7 -2.4l-4.5 -3l-1.4 -1.5l-0.6 -6.5l0.2 -2l3.5 -8.5l1.6 -2l1.7 -0.9l2.5 -0.4l7 0.7l6 -2.1l14.5 -3.3l1.8 -1.5l1.8 -4l1.3 -1.5l6.6 -3.3l9.2 -9.2l7.3 -4l4.5 -4.4l7 -1.4l5.5 -2.5l5.5 1.5l2.5 0l8 -3.1l1 -2.1l-1.3 -6.5l0.7 -3.5l3.7 -4.5M298.5 255.4l-1.8 1.1l-0.3 1l0.3 1.5l1.8 2.4l1 0.4l1.5 -0.2l2 -1.9l0.1 -2.2l-1.6 -1.7M332.5 166.5l1.5 -0.2l2 0.8l1.5 1.4l1 2l0.2 2.5l-0.6 3l-0.9 2l-1.2 0.9l-1.5 0l-1.5 -1l-1.9 -2.4l-1.1 -2.5l0.2 -3.5l1.1 -2M305.8 185l3.7 -0.3l1.5 0.5l1.4 1.3l0.9 2.5l0 6l6.2 11l2.5 1.7l7.4 1.8l5.9 3.5l1.2 1.5l2.5 5.1l4.5 4l2 2.4l1.9 5.5l1.1 1.8l2.5 2.2l5.5 3.1l1.4 1.4l2.6 8l2.5 4l3 2.4l8.5 3.6l1.5 1.2l0.7 1.3l-3.1 11l-1.1 1.8l-1.5 1l-7 1.1l-8.5 1.9l-8 0.4l-8 -1.3l-1.8 0.6l-1.4 2.5l0.5 7l-1.8 3.4l-2 1.9l-3.7 2.2l-2.8 3.6l-6.5 2.5l-2.5 -0.1l-4 -1.8l-7 -1.5l-2.6 -1.2l-2.4 -3.1l-2.1 -8.4l0.2 -2.5l1.9 -2.5l4.5 -2.7l6 -1.8l1.2 -1l0.7 -1.5l-0.1 -2l-1.5 -4.5l-1.7 -7.5l-4 -7.5l0.1 -2l2.1 -6.5l-0.3 -1.5l-1 -1.3l-3 -1l-5 0.8l-4.5 0.1l-10.5 2.8l-1.8 1.1l-1.3 3.5l-1.4 1.5l-7.5 2.8l-1.5 0.1l-1 -0.7l-3 -4.6l-3.2 -2.6l-0.6 -1.5l2.3 -1.5l8 -1.3l2.6 -1.2l1 -1.5l1.7 -5l0.2 -3.5l-1 -1.4l-1 -0.4l-9.5 0.8l-1.2 -1l-1.8 -4.1l-1.5 -1.5l-7 3.4l-1 0.9l-0.3 2.3l1.7 4l0 2l-3 4.5l-1.8 4l-1.6 1.7l-2.5 0.9l-2.3 -1.1l-2.1 -4l-0.8 -3l0.2 -8.5l2.1 -3.5l1.9 -1.3l4.1 -1.7l3.2 -3l2.2 -1.2l3 -0.4l4 1.2l1 -0.2l1.5 -1.3l3.2 -5.1l1.8 -1.4l2.5 0.1l4 3.7l3 1.7l6.5 1.5l2.6 -0.1l0.6 -1.5l-1.1 -2.5l-3.6 -3.5l-2 -2.8l-3.1 -2.2l-0.3 -1.5l0.9 -2.5l2.5 -3l4 -3M292 222.4l-1.4 1.6l0.4 1.9l2 1.1l2 -0.5l0.7 -1l-0.2 -1.6l-1.8 -1.4M324 266l-0.4 0.5l0.4 0.7l1.9 0.3l0.2 -0.5l-0.6 -0.5M383.7 288l5.3 0.8l1 0.8l0.5 1.4l-0.1 3l-0.9 2.6l-2.2 2.4l-2.3 1.1l-1.7 -0.1l-1.8 -1l-1.3 -1.5l-0.7 -2l0.1 -2.5l0.9 -2.5l1.5 -1.9M298.2 195l2 0l2.3 1l5.8 4.5l2.2 2.5l1 2.2l0.2 2.8l-0.7 4.1l-1.3 1.9l-2.2 0.1l-4.5 -1.5l-2 -1.3l-1.4 -1.8l-3.8 -10.5l0.5 -2.5M328.2 220l2.3 -0.2l2.2 1.7l0.9 2.5l1.9 8.5l1.5 2.5l5.6 5l11.4 6.2l6.5 10.9l2.5 2.2l5.5 3.1l0.3 1.1l-0.4 2l-2.9 4.1l-2 1l-2.5 0.7l-2.5 -0.1l-1.7 -0.7l-0.5 -1l0.9 -4l-0.8 -3.5l-1.9 -3.5l-3 -2.3l-2 0.1l-7.5 3.5l-2.5 0.6l-5.5 -1.5l-5.5 0l-2 -1.2l-2.1 -2.2l-1 -2.5l0.6 -1.7l2 -0.7l5.5 0.2l3.9 -4.3l1.2 -2.5l-0.3 -1.5l-1.3 -1.1l-2.5 -0.6l-6.9 -0.3l-0.9 -0.5l-0.7 -1.1l-1.4 -5.4l0.2 -3l2.2 -7l1.5 -2.3M310.4 231.5l1.1 -0.4l1.5 1l1.3 1.9l-0.3 1l-2.5 -1.1l-1 -1.4M322.5 278l3.5 -0.1l1.6 1.1l0.2 2.5l-1.8 3l-2.5 1.1l-4 0.5l-3 -0.5l-1.6 -1.1l-0.5 -1.5l1.2 -1.5l3.6 -2.5"/><path fill="none" stroke="#000" stroke-width="1.6" stroke-linejoin="round" d="M118.7 237l0 -1.4l1 -1.6l0.1 -2l1 -1.7l1.5 -1.1l1.4 -0.6l1.3 -0.8l3.1 -0.9l3.2 -1.3l3.4 -2.3l2.9 -0.8l1.4 -0.6l2.8 -1.7l3.9 -3.1l1.4 -0.1l1 -1.1l0.5 -1.9l1.2 -0.7l1.5 0.2l4.2 -0.8l1.3 -0.8l0.7 -1.6l1.3 -0.8l1.8 -0.2l1.1 -0.9l1.6 -2.8l1.1 -1.3l2.1 -0.3l1.8 -0.7l1 -1l3.7 -1.6l5.5 -1.7l1.6 -0.1l1.4 -0.6l2 -2.1l2.6 -1.3l2 -1.9l1.3 -0.6l1.7 -2.4l2.5 -1.2l1 -0.9l0.8 -1.3l1 -0.9l3.7 -2l1 -1l0.8 -1.3l2.9 -1.1l0.8 -1.3l1.1 -1l2.7 -0.9l1.2 -0.8l1.5 -2.5l3.7 -1.9l0.8 -1.2l0.5 -1.5l1.3 -0.7l1.7 -0.2l1.2 -0.9l0.8 -1.3l4.8 -0.3l1.3 -1.2l1.8 -2.6l2.4 -1.9l0.8 -1.4l2.7 -1.1l1.1 -1l4 -1.1l3.9 -1.7l0.9 -1.3l0.7 -1.6l1.3 -0.8l1.7 -0.2l2.7 -1.7l4.8 -1.3l2.9 -1.9l4.5 -0.1l1.6 0.2l1.5 -0.3l1.2 -1.6l1.2 -0.7l1.8 0.7l1.5 -0.1l0.5 -1.7l0.9 -1l1.3 -0.4l3 -1.3l3.2 -0.6l2.4 -1.3l2.2 -1.7l3.6 -1.8l1.1 -0.8l1.3 -0.4l1.6 0.1l4.5 -2.8l2.6 -1.1l2.2 -1.9l1.4 -0.6l1.2 -1l1.8 0.4l1.5 0.8l1.2 1.4l1.5 0.2l4.3 -1.8l2.7 -0.1l2.2 -1.7l6.2 -1.1l2.6 -2.1l4.6 -0.9l1.5 0.4l3.1 0.2l1.4 0.8l2.7 -1.9l1.8 0l1.6 0.5l3.5 -0.8l1.4 -0.1l1.5 0.6l1.2 -0.8l1 -1.4l3.8 -1.7l1.4 -0.2l2.9 -0.1l1.1 -0.9l1 -1.5l1.3 -0.4l3 0l1.3 -0.3l1.2 -0.5l1.3 -0.1l1.4 0.7l1.3 -0.1l1.2 -0.9l3.9 -0.5l2.7 0.2l1.2 -0.6l1.7 0.2l1.6 0.6l-1 3.1l-0.8 1.6l-2.7 1l-2.6 0.3l-5.4 1.6l-4.9 4l-2.8 0l-2.5 0.6l-1.4 -0.3l-1.3 0.3l-2.3 1.6l-1.5 0l-1.4 0.6l-1 0.8l-0.8 1.1l-0.6 1.5l-1.5 0.3l-2.6 -0.6l-1.2 0.3l-1.2 1.2l-1.8 1l0.5 2.8l-0.7 1.2l0.5 1.3l1.4 2.5l3.8 4l2.7 -0.1l2.5 1l1.3 -0.6l2.6 -0.4l1.1 -0.7l6.8 -1l1.3 -0.6l1.1 -1.1l2.5 -1.5l1.4 -0.5l1.7 0.2l2.2 -2.1l1.5 -0.2l1.2 -1l2.5 0.4l-2.2 2.8l-1.1 5.4l-1 2.6l0.1 1.5l-0.3 1.6l-3.1 1.4l-4.1 1l-3.8 1.5l-2.8 -0.3l-1.1 1l-2 0.4l-1.8 0l-3.2 4.4l-0.3 2.9l0.6 2.8l2.6 3.8l2.6 1.6l0.8 1.1l4.1 3.5l0.8 1.3l1.2 0.6l1.5 0.2l3.4 2l1.3 0.4l2.2 1.4l2 2l1.1 0.7l3.9 0.8l2.1 1.7l1.3 0.7l1.5 0.2l1.7 -0.4l1.4 0.4l1.3 0.7l4.2 0.4l1.3 0.7l1.5 -0.1l2.6 -1.5l2.8 -0.4l1.9 -2l2.9 -0.4l4.8 -3.3l5.5 -2.1l1 -1.1l0.6 -1.3l2.1 -2.2l0.5 -3.1l1.8 -0.4l1.5 0.2l0.9 0.7l2 0.3l2.3 2.4l1.7 0.3l1.3 0.7l0.9 1.2l1.3 0.7l1.4 0.2l1.3 0.5l2.4 1.5l4.2 0.9l1.3 0.5l2.3 2.1l2.8 0.4l2.5 1.4l5.6 -0.8l0.7 1.5l-0.1 1.5l-2 3.3l0.9 0.8l1.1 0.6l1.4 0.1l1.4 1l1.2 0.4l0.8 1l0.1 1.2l-1.8 0.2l-1.7 0.7l-0.9 1.3l0 1.7l-1.1 2l-0.1 2.7l-0.5 1.2l-0.9 1.2l-0.2 1.3l0.2 1.4l-1.4 5.2l-4.9 4.1l-0.8 1.4l-0.4 1.4l-1.3 0.1l-1.4 -0.4l-2.6 0.4l-1.4 0l-1.3 0.9l-1 1.1l-1.3 0.6l-0.8 1.1l-0.5 1.4l-0.2 2.8l-0.6 1.2l-1.8 2.6l0.3 1.8l0.9 1.4l1.1 1.5l1.6 0.7l1.1 1l-1.6 0.6l-1.1 -0.4l-2.4 1.5l-1.2 0.4l-1.6 3.4l-1.3 1.1l-4 2.5l-2.9 1.1l-1.2 1.4l-1.3 1l-2.1 2.5l-2.6 1.8l-0.9 1.1l-2.1 1.7l-0.9 1.1l-2.5 4.3l-1.3 0.9l-1.1 1.1l-1.8 4l-0.1 1.5l-0.5 1.2l-1 1.2l-1.9 3.7l0.1 1.4l-0.7 2.8l0.4 3.4l-0.4 1.5l-2.2 2l-1.1 3.8l-0.4 2.7l-0.8 1l-1.3 2.3l-1 1.1l0.1 1.5l-0.3 1.5l-2.4 1.5l-0.8 1.1l-1.9 1.8l-1.5 2.4l-2.6 0.9l-0.7 1.3l-0.9 1l-2.9 0.6l-1.2 0.6l-2 1.8l-1.3 0.4l-2 1.8l-1.7 -0.2l-1.3 0.4l-0.7 1.5l-2.4 1.3l-0.7 1.6l-1.1 1.2l-5.9 0.7l-1.3 0.7l-1 1l-3 0.1l-1.1 0.7l-3.9 3.8l-3.6 2l-1.6 2.3l-2.5 1.6l-0.7 1.5l-0.8 1.3l-2.3 2.2l-1.7 -0.2l-1.6 0.2l-3.4 2.6l-2.6 -1.1l-2.1 -2.1l-1.3 -0.3l-1.1 -0.9l-0.8 -1.3l-0.7 -3l-1.4 -1l-1.8 -0.4l-1.8 -3.2l-2.4 -1.4l-3.2 -0.4l-1.2 -0.8l-1 -2.8l0 -1.6l-1 -2.8l-0.9 -1.2l-3.5 -3.1l-3.5 -0.5l-0.9 -0.8l-1.4 -0.5l-1.5 0.2l-2.6 -1.4l-1.4 0.3l-1.4 -0.1l-4.2 -1.3l-1.3 0.5l-1.4 1.1l-1.5 -0.4l-1.2 -1.3l-1.4 -0.7l-1.4 0.3l-2.8 -0.6l-4.2 1.4l-3 -0.9l-2.6 1.6l-1.4 0.3l-4.3 -0.3l-5.3 -1.8l-4.7 -0.2l-1.4 -0.6l-0.9 -1.1l-0.9 -1.2l-0.6 -1.5l-1.2 -0.5l-1.7 0.2l-1.8 -1.8l-1.5 -0.4l-0.8 -1.1l-0.6 -1.2l-1.2 -0.7l-0.9 -1.1l-0.8 -2.7l-2 -3.5l-0.2 -2.6l-1.7 -2.5l-0.4 -1.3l0.1 -1.3l0.8 -1.3l0 -1.5l-2.9 -3.4l-1.1 -2.9l-0.4 -4.2l2.4 -2l0.4 -1.5l0.7 -1.2l0.9 -1.1l1.1 -0.7l0 -2.6l1.2 -1.1l-0.3 -2l-2.2 -2.6l-2.7 -1.3l-0.9 -1.2l-2.7 -1.5l-1 -1.4l-1.2 -1l-2.7 -1.4l-5.3 -2.4l-3.5 -2.8l-1.4 -0.2l-1.5 0.1l-2.7 -0.8l-1.4 0.7l-1.2 -0.5l-1.2 -1.3l-1.4 -0.5l-3.8 1.9l0.7 2.8l-0.5 1.9l-4 1l-3.6 1.6l-1.2 -0.5l-2.1 -0.1l-1.2 1l-0.8 1.6l-1.1 1.2l-1.6 0.5l-2 -0.6l-5.1 0.2l-2.5 2.3l-1.2 0.8l-0.8 1.4l-1.1 1.2l-1.7 4.3l-0.4 5.4l-1.4 4.4l-0.8 1.2l-1.6 1.9l-6 0.7l-1.3 -0.2l-2.5 -1.3l-2.7 -1l-0.8 -1.3l-0.8 -2.6l-0.7 -1.1l-1.2 -3.1l-1 -1.4l-0.4 -1.7l-1.1 -1.6l1 -1.4l3 -2.3l-1.5 -2.2l-3.1 -1.3l-1.3 -1.2l-1.7 -0.1l-2.9 0.3l-1.3 0.4l-1.1 0.9l-2.9 0.8l-1.2 -1.1l-0.8 -1.3l-0.5 -1.6l-1.5 -0.3l-1.7 0.2l-0.6 2.6l-1.9 0.9l-2 -0.3l-1.7 -0.8l-2.1 0.2l-1.6 -0.2l-1.9 -1.5l3.4 -3.1l1.1 0.1l-0.8 1.1l-1.7 -0.7l-1.6 -2.5l-3.6 -2.4l-1.3 -1.3l-0.8 -1.6l-0.1 -4l-0.3 -1.4zM105.9 241l2.2 -2.7l1.4 -0.2l1 -0.7l0.7 -0.9l2.6 -1.9l1.8 -1l1.4 0.7l-2.4 2.2l-1.4 1.6l-1.7 1.2l-4.9 2.5zM295.2 383l0.1 -1.1l0.6 -0.9l0.3 -0.9l0.7 -0.8l3 -1l2 -1l1.1 0.1l1.9 1l2.5 0l2.4 -0.8l1.1 0.2l1.9 1l1.6 1.8l-0.5 1.7l-1.8 0.5l-1.1 0.8l-0.9 1.2l1 0.9l0.5 0.9l-1.9 1.3l-2.3 -0.1l-1 0.5l-0.7 0.8l-2.5 0.8l-2 -0.3l-1.1 0.2l-1.4 -0.7l-2.5 -2.6l-0.3 -2.3zM309.2 374l-0.6 -2.4l2.4 -1.5l2.7 0.6l-0.3 2.7l-2.4 1.8z"/><g font-size="8.6px" style="fill:#111"><text transform="translate(456.0 68.7) rotate(-29)" text-anchor="middle" y="3">20 C</text><text transform="translate(271.0 85.8) rotate(0)" text-anchor="middle" y="3">21 C</text><text transform="translate(191.5 214.0) rotate(-28)" text-anchor="middle" y="3">25 C</text><text transform="translate(258.0 168.2) rotate(-8)" text-anchor="middle" y="3">25 C</text><text transform="translate(281.5 149.0) rotate(35)" text-anchor="middle" y="3">6 C</text><text transform="translate(275.8 181.0) rotate(-40)" text-anchor="middle" y="3">30 C</text><text transform="translate(328.2 177.2) rotate(8)" text-anchor="middle" y="3">32 C</text><text transform="translate(341.0 240.0) rotate(27)" text-anchor="middle" y="3">34 C</text><text transform="translate(400.7 239.8) rotate(-54)" text-anchor="middle" y="3">29 C</text><text transform="translate(397.0 283.3) rotate(-17)" text-anchor="middle" y="3">32 C</text><text transform="translate(352.6 293.7) rotate(-25)" text-anchor="middle" y="3">32 C</text><text transform="translate(323.0 287.8) rotate(-45)" text-anchor="middle" y="3">34 C</text><text transform="translate(323.4 300.0) rotate(-10)" text-anchor="middle" y="3">33 C</text><text transform="translate(193.0 262.0) rotate(-40)" text-anchor="middle" y="3">26 C</text><text transform="translate(200.0 290.0) rotate(12)" text-anchor="middle" y="3">22 C</text><text transform="translate(266.4 287.5) rotate(60)" text-anchor="middle" y="3">31 C</text><text transform="translate(430.4 206.5) rotate(13)" text-anchor="middle" y="3">29 C</text><text transform="translate(502.7 203.5) rotate(-32)" text-anchor="middle" y="3">21 C</text><text transform="translate(337.2 368.5) rotate(-5)" text-anchor="middle" y="3">22 C</text><text transform="translate(320.0 387.0) rotate(-25)" text-anchor="middle" y="3">28 C</text></g></g>
<path d="M166.5 48V450M259.5 48V450M353.5 48V450M446.5 48V450M73 148.5H540M73 249.5H540M73 350.5H540" fill="none" stroke="#000" stroke-opacity="0.27" stroke-width="1.2" stroke-dasharray="3.7 1.2"/>
</g>
<g font-size="8px" style="fill:#333"><text x="68.3" y="51.1" text-anchor="end" font-size="7.8px">40.15°N</text><text x="68.3" y="151.1" text-anchor="end" font-size="7.8px">39.85°N</text><text x="68.3" y="252.1" text-anchor="end" font-size="7.8px">39.55°N</text><text x="68.3" y="353.1" text-anchor="end" font-size="7.8px">39.25°N</text><text x="68.3" y="453.1" text-anchor="end" font-size="7.8px">38.95°N</text><text x="73.5" y="461.8" text-anchor="middle">2.2°E</text><text x="166.5" y="461.8" text-anchor="middle">2.5°E</text><text x="259.5" y="461.8" text-anchor="middle">2.8°E</text><text x="353.5" y="461.8" text-anchor="middle">3.1°E</text><text x="446.5" y="461.8" text-anchor="middle">3.4°E</text></g>
<text x="186.3" y="44" font-size="9px">Modelo HARMONIE-AROME v43, 23-05-2022 a las 14 UTC</text>
<rect x="569.5" y="443.87" width="20.0" height="6.43" fill="#000088"/><rect x="569.5" y="436.40" width="20.0" height="7.77" fill="#00009f"/><rect x="569.5" y="428.93" width="20.0" height="7.77" fill="#0000b1"/><rect x="569.5" y="421.46" width="20.0" height="7.77" fill="#0000c8"/><rect x="569.5" y="413.99" width="20.0" height="7.77" fill="#0000de"/><rect x="569.5" y="406.52" width="20.0" height="7.77" fill="#0000f5"/><rect x="569.5" y="399.05" width="20.0" height="7.77" fill="#0000ff"/><rect x="569.5" y="391.58" width="20.0" height="7.77" fill="#000cff"/><rect x="569.5" y="384.11" width="20.0" height="7.77" fill="#0020ff"/><rect x="569.5" y="376.64" width="20.0" height="7.77" fill="#0034ff"/><rect x="569.5" y="369.17" width="20.0" height="7.77" fill="#0044ff"/><rect x="569.5" y="361.70" width="20.0" height="7.77" fill="#0058ff"/><rect x="569.5" y="354.23" width="20.0" height="7.77" fill="#006cff"/><rect x="569.5" y="346.76" width="20.0" height="7.77" fill="#0080ff"/><rect x="569.5" y="339.29" width="20.0" height="7.77" fill="#0090ff"/><rect x="569.5" y="331.82" width="20.0" height="7.77" fill="#00a4ff"/><rect x="569.5" y="324.35" width="20.0" height="7.77" fill="#00b8ff"/><rect x="569.5" y="316.88" width="20.0" height="7.77" fill="#00c8ff"/><rect x="569.5" y="309.41" width="20.0" height="7.77" fill="#00dcfe"/><rect x="569.5" y="301.94" width="20.0" height="7.77" fill="#08f0ed"/><rect x="569.5" y="294.47" width="20.0" height="7.77" fill="#18ffdd"/><rect x="569.5" y="287.00" width="20.0" height="7.77" fill="#25ffd0"/><rect x="569.5" y="279.53" width="20.0" height="7.77" fill="#36ffc0"/><rect x="569.5" y="272.06" width="20.0" height="7.77" fill="#46ffb0"/><rect x="569.5" y="264.59" width="20.0" height="7.77" fill="#56ffa0"/><rect x="569.5" y="257.12" width="20.0" height="7.77" fill="#63ff93"/><rect x="569.5" y="249.65" width="20.0" height="7.77" fill="#73ff83"/><rect x="569.5" y="242.18" width="20.0" height="7.77" fill="#83ff73"/><rect x="569.5" y="234.71" width="20.0" height="7.77" fill="#93ff63"/><rect x="569.5" y="227.24" width="20.0" height="7.77" fill="#a0ff56"/><rect x="569.5" y="219.77" width="20.0" height="7.77" fill="#b0ff46"/><rect x="569.5" y="212.30" width="20.0" height="7.77" fill="#c0ff36"/><rect x="569.5" y="204.83" width="20.0" height="7.77" fill="#d0ff25"/><rect x="569.5" y="197.36" width="20.0" height="7.77" fill="#ddff18"/><rect x="569.5" y="189.89" width="20.0" height="7.77" fill="#edff08"/><rect x="569.5" y="182.42" width="20.0" height="7.77" fill="#feed00"/><rect x="569.5" y="174.95" width="20.0" height="7.77" fill="#ffda00"/><rect x="569.5" y="167.48" width="20.0" height="7.77" fill="#ffcb00"/><rect x="569.5" y="160.01" width="20.0" height="7.77" fill="#ffb900"/><rect x="569.5" y="152.54" width="20.0" height="7.77" fill="#ffa600"/><rect x="569.5" y="145.07" width="20.0" height="7.77" fill="#ff9400"/><rect x="569.5" y="137.60" width="20.0" height="7.77" fill="#ff8500"/><rect x="569.5" y="130.13" width="20.0" height="7.77" fill="#ff7300"/><rect x="569.5" y="122.66" width="20.0" height="7.77" fill="#ff6000"/><rect x="569.5" y="115.19" width="20.0" height="7.77" fill="#ff5100"/><rect x="569.5" y="107.72" width="20.0" height="7.77" fill="#ff3f00"/><rect x="569.5" y="100.25" width="20.0" height="7.77" fill="#ff2c00"/><rect x="569.5" y="92.78" width="20.0" height="7.77" fill="#ff1a00"/><rect x="569.5" y="85.31" width="20.0" height="7.77" fill="#f50b00"/><rect x="569.5" y="77.84" width="20.0" height="7.77" fill="#de0000"/><rect x="569.5" y="70.37" width="20.0" height="7.77" fill="#c80000"/><rect x="569.5" y="62.90" width="20.0" height="7.77" fill="#b10000"/><rect x="569.5" y="55.43" width="20.0" height="7.77" fill="#9f0000"/><rect x="569.5" y="48.00" width="20.0" height="7.73" fill="#880000"/>
<rect x="569.5" y="48" width="20.0" height="402" fill="none" stroke="#222" stroke-width="0.8"/>
<path d="M589.5 421.46h3M589.5 376.64h3M589.5 331.82h3M589.5 287.00h3M589.5 242.18h3M589.5 197.36h3M589.5 152.54h3M589.5 107.72h3M589.5 62.90h3" stroke="#222" stroke-width="0.8"/>
<g font-size="7.8px" style="fill:#333"><text x="594.6" y="424.76">−6</text><text x="594.6" y="379.94">0</text><text x="594.6" y="335.12">6</text><text x="594.6" y="290.30">12</text><text x="594.6" y="245.48">18</text><text x="594.6" y="200.66">24</text><text x="594.6" y="155.84">30</text><text x="594.6" y="111.02">36</text><text x="594.6" y="66.20">42</text></g>
<g>
<rect x="474" y="419.7" width="66" height="30.3" fill="#fcfdff"/>
<path d="M477.1 441.5L487.3 421.8L490.4 441.5" fill="none" stroke="#2b3f8f" stroke-width="1.5" stroke-linejoin="round"/>
<path d="M480.2 437.6Q486 432.5 492 431.8Q498 431.2 502.5 431.3" fill="none" stroke="#d9c84a" stroke-width="1.2"/>
<path d="M510.2 423.1L496.3 424.3L495.6 441.2L505.5 440.4M496.3 431.6L502.2 431.3" fill="none" stroke="#c4401c" stroke-width="1.6"/>
<path d="M505.1 437.4L508.5 427.9L511.2 436L515 427.2L517 439.4" fill="none" stroke="#3d5fa8" stroke-width="1.4" stroke-linejoin="round"/>
<path d="M518.2 435.2L523.2 433.6Q523.4 430.4 520.6 430.8Q517.6 431.6 517.9 436Q518.5 439.6 523.8 438.3" fill="none" stroke="#4a6ac8" stroke-width="1.3"/>
<path d="M532.6 424.3Q529.3 432 529.4 441.4M524.4 426.1L538.2 427.8" fill="none" stroke="#4a6ac8" stroke-width="1.4"/>
<text x="476.5" y="448.2" font-size="3.4px" textLength="58" lengthAdjust="spacingAndGlyphs" style="fill:#6a7ab8">Agencia Estatal de Meteorología</text>
</g>
<rect x="73.5" y="48.5" width="467" height="402" fill="none" stroke="#222" stroke-width="1.1"/>
</svg>
</body></html>
